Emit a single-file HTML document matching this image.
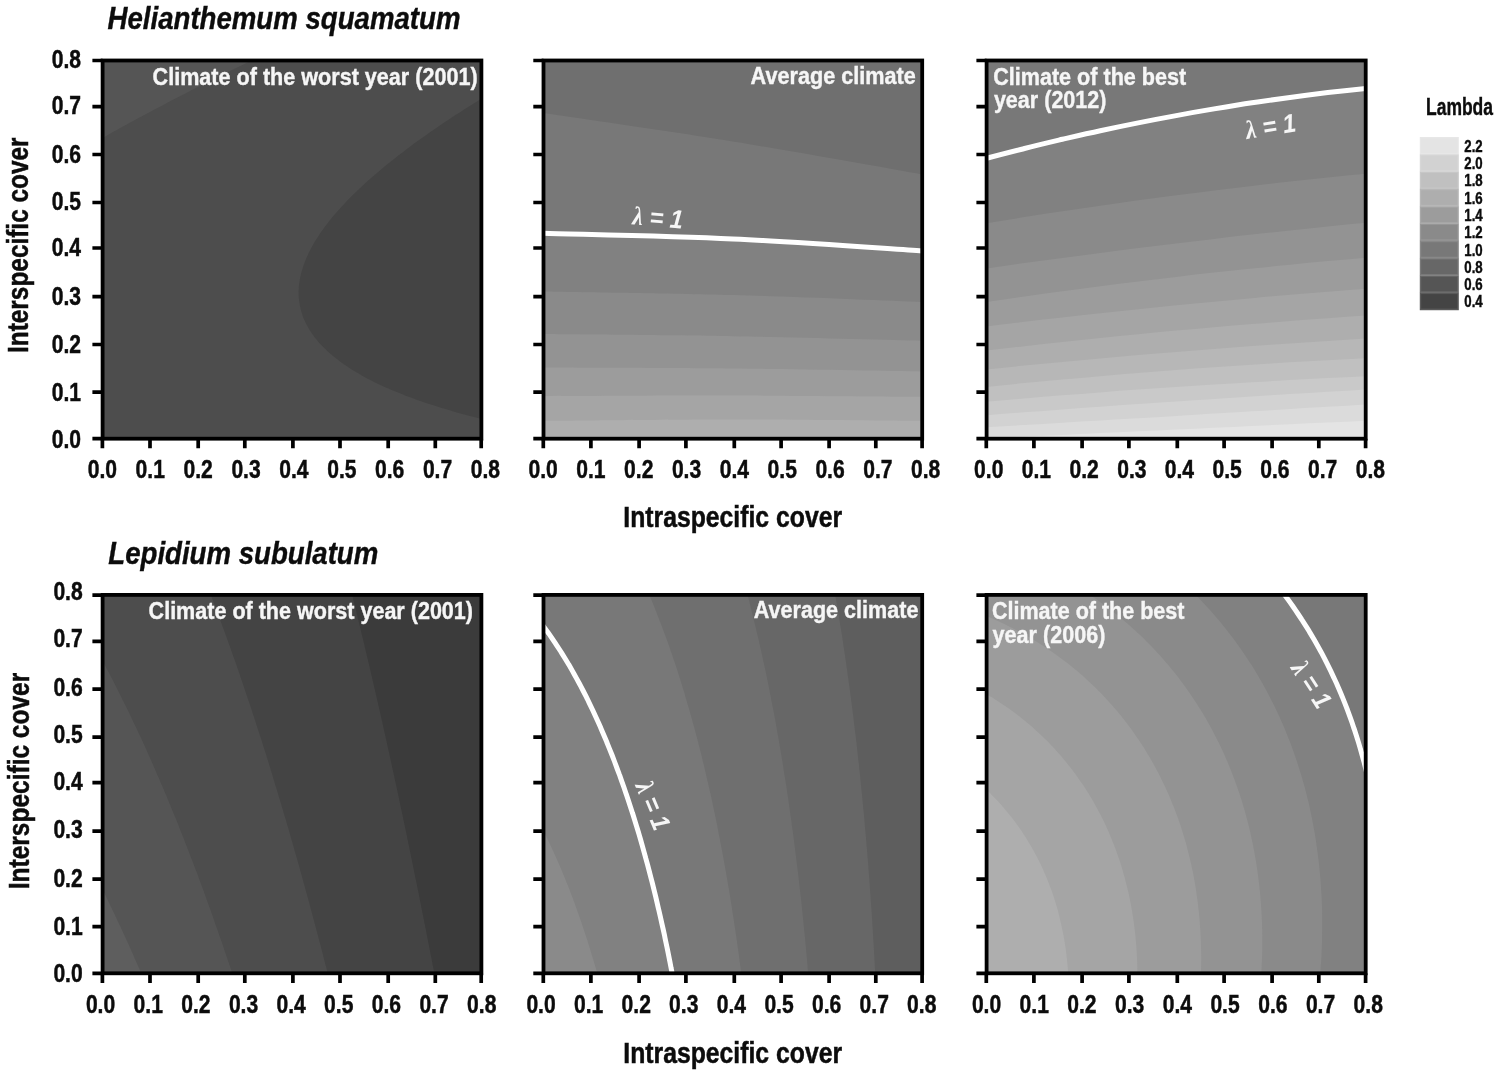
<!DOCTYPE html>
<html lang="en"><head><meta charset="utf-8"><title>Lambda contour plots</title>
<style>
html,body{margin:0;padding:0;background:#fff;}
body{width:1499px;height:1077px;overflow:hidden;}
svg{display:block;filter:blur(0.7px);}
text{font-family:"Liberation Sans",Arial,Helvetica,sans-serif;font-weight:bold;}
.tk{font-size:26.2px;fill:#0c0c0c;stroke:#0c0c0c;stroke-width:0.5px;}
.ax{font-size:29.6px;fill:#0c0c0c;stroke:#0c0c0c;stroke-width:0.5px;}
.ti{font-size:31.5px;font-style:italic;fill:#0c0c0c;stroke:#0c0c0c;stroke-width:0.4px;}
.pl{font-size:24.5px;fill:#f6f6f6;stroke:#f6f6f6;stroke-width:0.4px;}
.lm{font-size:26px;font-style:italic;fill:#f6f6f6;}
.lg{font-size:17.4px;fill:#0c0c0c;stroke:#0c0c0c;stroke-width:0.45px;}
.lt{font-size:23.4px;fill:#0c0c0c;stroke:#0c0c0c;stroke-width:0.4px;}
.ls{font-family:"Liberation Serif","DejaVu Serif",serif;font-weight:bold;font-style:italic;}
</style></head><body>
<svg width="1499" height="1077" viewBox="0 0 1499 1077" role="img" aria-label="Lambda contour plots for Helianthemum squamatum and Lepidium subulatum">
<rect width="1499" height="1077" fill="#fff"/>
<defs>
<clipPath id="c00"><rect x="102.6" y="60.5" width="378.8" height="378.2"/></clipPath>
<clipPath id="c01"><rect x="543.5" y="60.5" width="378.7" height="378.2"/></clipPath>
<clipPath id="c02"><rect x="986.6" y="60.5" width="379.1" height="378.2"/></clipPath>
<clipPath id="c10"><rect x="102.6" y="594.9" width="378.8" height="378.4"/></clipPath>
<clipPath id="c11"><rect x="543.5" y="594.9" width="378.7" height="378.4"/></clipPath>
<clipPath id="c12"><rect x="986.6" y="594.9" width="379.1" height="378.4"/></clipPath>
</defs>
<g clip-path="url(#c00)">
<rect x="102.6" y="60.5" width="378.8" height="378.2" fill="#444444"/>
<path d="M88.4 452.9 L94.9 452.9 L101.3 452.9 L107.8 452.9 L114.2 452.9 L120.7 452.9 L127.2 452.9 L133.6 452.9 L140.1 452.9 L146.6 452.9 L153 452.9 L159.5 452.9 L166 452.9 L172.4 452.9 L178.9 452.9 L185.3 452.9 L191.8 452.9 L198.3 452.9 L204.7 452.9 L211.2 452.9 L217.7 452.9 L224.1 452.9 L230.6 452.9 L237.1 452.9 L243.5 452.9 L250 452.9 L256.4 452.9 L262.9 452.9 L269.4 452.9 L275.8 452.9 L282.3 452.9 L288.8 452.9 L295.2 452.9 L301.7 452.9 L308.2 452.9 L314.6 452.9 L321.1 452.9 L327.6 452.9 L334 452.9 L340.5 452.9 L346.9 452.9 L353.4 452.9 L359.9 452.9 L366.3 452.9 L372.8 452.9 L379.3 452.9 L385.7 452.9 L392.2 452.9 L398.7 452.9 L405.1 452.9 L411.6 452.9 L418 452.9 L424.5 452.9 L431 452.9 L437.4 452.9 L443.9 452.9 L450.4 452.9 L456.8 452.9 L463.3 452.9 L469.8 452.9 L476.2 452.9 L482.7 452.9 L489.1 452.9 L495.6 452.9 L495.6 446.4 L495.6 440 L495.6 433.5 L495.6 427.1 L495.6 422.3 L489.1 420.8 L488.5 420.6 L482.7 419.2 L476.2 417.6 L469.8 415.9 L463.3 414.2 L463.1 414.2 L456.8 412.4 L450.4 410.5 L443.9 408.6 L440.8 407.7 L437.4 406.6 L431 404.6 L424.5 402.4 L421 401.3 L418 400.2 L411.6 397.8 L405.1 395.4 L403.5 394.8 L398.7 392.8 L392.2 390.2 L387.9 388.3 L385.7 387.4 L379.3 384.4 L374.1 381.9 L372.8 381.2 L366.3 377.9 L361.8 375.4 L359.9 374.3 L353.4 370.5 L351 369 L346.9 366.3 L341.4 362.5 L340.5 361.8 L334 356.8 L333 356.1 L327.6 351.2 L325.8 349.6 L321.1 344.8 L319.5 343.2 L314.6 337.3 L314.2 336.7 L309.7 330.3 L308.2 327.5 L306.1 323.8 L303.2 317.4 L301.7 312.7 L301.1 310.9 L299.7 304.5 L298.8 298 L298.6 291.5 L299 285.1 L300 278.6 L301.4 272.2 L301.7 271.3 L303.4 265.7 L305.9 259.3 L308.2 254.2 L308.8 252.8 L312.1 246.4 L314.6 242.1 L315.9 239.9 L320.1 233.5 L321.1 232.1 L324.7 227 L327.6 223.3 L329.7 220.6 L334 215.3 L335 214.1 L340.5 207.9 L340.7 207.7 L346.7 201.2 L346.9 201 L353.1 194.7 L353.4 194.5 L359.8 188.3 L359.9 188.2 L366.3 182.3 L366.8 181.8 L372.8 176.5 L374.1 175.4 L379.3 171 L381.7 168.9 L385.7 165.6 L389.6 162.5 L392.2 160.4 L397.7 156 L398.7 155.3 L405.1 150.4 L406.2 149.6 L411.6 145.6 L414.8 143.1 L418 140.8 L423.8 136.7 L424.5 136.2 L431 131.6 L433 130.2 L437.4 127.2 L442.4 123.8 L443.9 122.8 L450.4 118.5 L452.1 117.3 L456.8 114.2 L462 110.9 L463.3 110 L469.8 105.9 L472.1 104.4 L476.2 101.9 L482.5 97.9 L482.7 97.8 L489.1 93.9 L493.1 91.5 L495.6 90 L495.6 85 L495.6 78.6 L495.6 72.1 L495.6 65.7 L495.6 59.2 L495.6 52.8 L495.6 46.3 L489.1 46.3 L482.7 46.3 L476.2 46.3 L469.8 46.3 L463.3 46.3 L456.8 46.3 L450.4 46.3 L443.9 46.3 L437.4 46.3 L431 46.3 L424.5 46.3 L418 46.3 L411.6 46.3 L405.1 46.3 L398.7 46.3 L392.2 46.3 L385.7 46.3 L379.3 46.3 L372.8 46.3 L366.3 46.3 L359.9 46.3 L353.4 46.3 L346.9 46.3 L340.5 46.3 L334 46.3 L327.6 46.3 L321.1 46.3 L314.6 46.3 L308.2 46.3 L301.7 46.3 L295.2 46.3 L288.8 46.3 L282.3 46.3 L275.8 46.3 L269.4 46.3 L262.9 46.3 L256.4 46.3 L250 46.3 L243.5 46.3 L237.1 46.3 L230.6 46.3 L224.1 46.3 L217.7 46.3 L211.2 46.3 L204.7 46.3 L198.3 46.3 L191.8 46.3 L185.3 46.3 L178.9 46.3 L172.4 46.3 L166 46.3 L159.5 46.3 L153 46.3 L146.6 46.3 L140.1 46.3 L133.6 46.3 L127.2 46.3 L120.7 46.3 L114.2 46.3 L107.8 46.3 L101.3 46.3 L94.9 46.3 L88.4 46.3 L88.4 52.8 L88.4 59.2 L88.4 65.7 L88.4 72.1 L88.4 78.6 L88.4 85 L88.4 91.5 L88.4 97.9 L88.4 104.4 L88.4 110.9 L88.4 117.3 L88.4 123.8 L88.4 130.2 L88.4 136.7 L88.4 143.1 L88.4 149.6 L88.4 156 L88.4 162.5 L88.4 168.9 L88.4 175.4 L88.4 181.8 L88.4 188.3 L88.4 194.7 L88.4 201.2 L88.4 207.7 L88.4 214.1 L88.4 220.6 L88.4 227 L88.4 233.5 L88.4 239.9 L88.4 246.4 L88.4 252.8 L88.4 259.3 L88.4 265.7 L88.4 272.2 L88.4 278.6 L88.4 285.1 L88.4 291.5 L88.4 298 L88.4 304.5 L88.4 310.9 L88.4 317.4 L88.4 323.8 L88.4 330.3 L88.4 336.7 L88.4 343.2 L88.4 349.6 L88.4 356.1 L88.4 362.5 L88.4 369 L88.4 375.4 L88.4 381.9 L88.4 388.3 L88.4 394.8 L88.4 401.3 L88.4 407.7 L88.4 414.2 L88.4 420.6 L88.4 427.1 L88.4 433.5 L88.4 440 L88.4 446.4Z" fill="#4d4d4d"/>
<path d="M88.4 143.1 L88.4 146 L93.4 143.1 L94.9 142.3 L101.3 138.6 L104.8 136.7 L107.8 135 L114.2 131.3 L116.3 130.2 L120.7 127.8 L127.2 124.2 L128 123.8 L133.6 120.7 L139.8 117.3 L140.1 117.2 L146.6 113.7 L151.9 110.9 L153 110.3 L159.5 106.9 L164.1 104.4 L166 103.4 L172.4 100.1 L176.5 97.9 L178.9 96.7 L185.3 93.4 L189.1 91.5 L191.8 90.1 L198.3 86.8 L201.8 85 L204.7 83.6 L211.2 80.3 L214.7 78.6 L217.7 77.1 L224.1 73.9 L227.7 72.1 L230.6 70.7 L237.1 67.6 L240.9 65.7 L243.5 64.4 L250 61.3 L254.2 59.2 L256.4 58.2 L262.9 55.1 L267.7 52.8 L269.4 52 L275.8 48.9 L281.4 46.3 L275.8 46.3 L269.4 46.3 L262.9 46.3 L256.4 46.3 L250 46.3 L243.5 46.3 L237.1 46.3 L230.6 46.3 L224.1 46.3 L217.7 46.3 L211.2 46.3 L204.7 46.3 L198.3 46.3 L191.8 46.3 L185.3 46.3 L178.9 46.3 L172.4 46.3 L166 46.3 L159.5 46.3 L153 46.3 L146.6 46.3 L140.1 46.3 L133.6 46.3 L127.2 46.3 L120.7 46.3 L114.2 46.3 L107.8 46.3 L101.3 46.3 L94.9 46.3 L88.4 46.3 L88.4 52.8 L88.4 59.2 L88.4 65.7 L88.4 72.1 L88.4 78.6 L88.4 85 L88.4 91.5 L88.4 97.9 L88.4 104.4 L88.4 110.9 L88.4 117.3 L88.4 123.8 L88.4 130.2 L88.4 136.7Z" fill="#555555"/>
</g>
<g clip-path="url(#c01)">
<rect x="543.5" y="60.5" width="378.7" height="378.2" fill="#6f6f6f"/>
<path d="M540.5 112.7 C541 112.7 511.4 108.3 543.5 113.1 C575.6 117.9 669.7 131.3 732.9 141.5 C796 151.7 890.1 168.8 922.2 174.4 C954.3 180 924.7 174.8 925.2 174.9 L925.2 443.7 L540.5 443.7 Z" fill="#787878"/>
<path d="M540.5 233.2 C541 233.2 511.4 232.3 543.5 233.3 C575.6 234.3 669.7 236.1 732.9 239 C796 241.9 890.1 248.9 922.2 250.9 C954.3 252.9 924.7 251.1 925.2 251.1 L925.2 443.7 L540.5 443.7 Z" fill="#818181"/>
<path d="M540.5 291.3 C541 291.4 511.4 290.8 543.5 291.4 C575.6 292 669.7 293.2 732.9 295 C796 296.8 890.1 300.8 922.2 302 C954.3 303.2 924.7 302.1 925.2 302.1 L925.2 443.7 L540.5 443.7 Z" fill="#8a8a8a"/>
<path d="M540.5 334.1 C541 334.1 511.4 333.7 543.5 334.1 C575.6 334.5 669.7 335.1 732.9 336.2 C796 337.3 890.1 339.9 922.2 340.7 C954.3 341.5 924.7 340.8 925.2 340.8 L925.2 443.7 L540.5 443.7 Z" fill="#939393"/>
<path d="M540.5 367.4 C541 367.4 511.4 367.2 543.5 367.4 C575.6 367.6 669.7 367.7 732.9 368.4 C796 369.1 890.1 370.9 922.2 371.4 C954.3 371.9 924.7 371.4 925.2 371.4 L925.2 443.7 L540.5 443.7 Z" fill="#9c9c9c"/>
<path d="M540.5 396.2 C541 396.2 511.4 396.3 543.5 396.2 C575.6 396.1 669.7 395.5 732.9 395.6 C796 395.7 890.1 396.6 922.2 396.8 C954.3 397 924.7 396.8 925.2 396.8 L925.2 443.7 L540.5 443.7 Z" fill="#a5a5a5"/>
<path d="M540.5 420.8 C541 420.8 511.4 421 543.5 420.8 C575.6 420.6 669.7 419.4 732.9 419.4 C796 419.4 890.1 420.6 922.2 420.8 C954.3 421 924.7 420.8 925.2 420.8 L925.2 443.7 L540.5 443.7 Z" fill="#aeaeae"/>
<path d="M540.5 233.2 C541 233.2 511.4 232.3 543.5 233.3 C575.6 234.3 669.7 236.1 732.9 239 C796 241.9 890.1 248.9 922.2 250.9 C954.3 252.9 924.7 251.1 925.2 251.1" fill="none" stroke="#fff" stroke-width="5.0"/>
</g>
<g clip-path="url(#c02)">
<rect x="986.6" y="60.5" width="379.1" height="378.2" fill="#787878"/>
<path d="M948.7 168.7 C955 167 974 161.7 986.6 158.3 C999.2 154.9 1011.9 151.7 1024.5 148.5 C1037.1 145.3 1049.8 142.3 1062.4 139.3 C1075.1 136.4 1087.7 133.5 1100.3 130.8 C1113 128 1125.6 125.4 1138.2 122.9 C1150.9 120.3 1163.5 117.9 1176.2 115.6 C1188.8 113.2 1201.4 111 1214.1 108.9 C1226.7 106.8 1239.3 104.7 1252 102.8 C1264.6 100.9 1277.2 99.1 1289.9 97.4 C1302.5 95.7 1315.2 94.1 1327.8 92.6 C1340.4 91.1 1353.1 89.7 1365.7 88.4 C1378.3 87.1 1397.3 85.4 1403.6 84.8 L1403.6 463.7 L948.7 463.7 Z" fill="#818181"/>
<path d="M948.7 229.6 C955 228.5 974 225.3 986.6 223.2 C999.2 221.1 1011.9 219.1 1024.5 217.1 C1037.1 215.1 1049.8 213.2 1062.4 211.3 C1075.1 209.3 1087.7 207.5 1100.3 205.7 C1113 203.8 1125.6 202.1 1138.2 200.3 C1150.9 198.6 1163.5 196.9 1176.2 195.2 C1188.8 193.6 1201.4 192 1214.1 190.4 C1226.7 188.9 1239.3 187.3 1252 185.9 C1264.6 184.4 1277.2 182.9 1289.9 181.6 C1302.5 180.2 1315.2 178.8 1327.8 177.5 C1340.4 176.2 1353.1 174.9 1365.7 173.7 C1378.3 172.5 1397.3 170.7 1403.6 170.2 L1403.6 463.7 L948.7 463.7 Z" fill="#8a8a8a"/>
<path d="M948.7 274 C955 273.1 974 270.3 986.6 268.5 C999.2 266.7 1011.9 264.9 1024.5 263.1 C1037.1 261.4 1049.8 259.6 1062.4 257.9 C1075.1 256.2 1087.7 254.6 1100.3 252.9 C1113 251.3 1125.6 249.7 1138.2 248.1 C1150.9 246.5 1163.5 244.9 1176.2 243.4 C1188.8 241.9 1201.4 240.4 1214.1 238.9 C1226.7 237.4 1239.3 236 1252 234.6 C1264.6 233.2 1277.2 231.8 1289.9 230.5 C1302.5 229.1 1315.2 227.8 1327.8 226.5 C1340.4 225.2 1353.1 223.9 1365.7 222.7 C1378.3 221.5 1397.3 219.7 1403.6 219.1 L1403.6 463.7 L948.7 463.7 Z" fill="#939393"/>
<path d="M948.7 307.9 C955 306.9 974 304 986.6 302.1 C999.2 300.2 1011.9 298.4 1024.5 296.6 C1037.1 294.8 1049.8 293 1062.4 291.3 C1075.1 289.6 1087.7 287.9 1100.3 286.3 C1113 284.6 1125.6 283 1138.2 281.5 C1150.9 279.9 1163.5 278.4 1176.2 276.9 C1188.8 275.4 1201.4 274 1214.1 272.6 C1226.7 271.2 1239.3 269.8 1252 268.5 C1264.6 267.2 1277.2 265.9 1289.9 264.7 C1302.5 263.4 1315.2 262.2 1327.8 261.1 C1340.4 259.9 1353.1 258.8 1365.7 257.7 C1378.3 256.6 1397.3 255.1 1403.6 254.6 L1403.6 463.7 L948.7 463.7 Z" fill="#9c9c9c"/>
<path d="M948.7 331.1 C955 330.3 974 328 986.6 326.4 C999.2 324.9 1011.9 323.3 1024.5 321.8 C1037.1 320.3 1049.8 318.9 1062.4 317.5 C1075.1 316 1087.7 314.6 1100.3 313.2 C1113 311.9 1125.6 310.5 1138.2 309.2 C1150.9 307.9 1163.5 306.6 1176.2 305.3 C1188.8 304.1 1201.4 302.9 1214.1 301.7 C1226.7 300.5 1239.3 299.3 1252 298.2 C1264.6 297 1277.2 295.9 1289.9 294.8 C1302.5 293.8 1315.2 292.7 1327.8 291.7 C1340.4 290.7 1353.1 289.7 1365.7 288.7 C1378.3 287.7 1397.3 286.4 1403.6 285.9 L1403.6 463.7 L948.7 463.7 Z" fill="#a5a5a5"/>
<path d="M948.7 355.2 C955 354.4 974 352.1 986.6 350.6 C999.2 349.1 1011.9 347.6 1024.5 346.2 C1037.1 344.8 1049.8 343.4 1062.4 342 C1075.1 340.6 1087.7 339.3 1100.3 338 C1113 336.7 1125.6 335.4 1138.2 334.2 C1150.9 333 1163.5 331.8 1176.2 330.6 C1188.8 329.4 1201.4 328.3 1214.1 327.2 C1226.7 326.1 1239.3 325 1252 324 C1264.6 323 1277.2 322 1289.9 321 C1302.5 320 1315.2 319.1 1327.8 318.2 C1340.4 317.3 1353.1 316.4 1365.7 315.6 C1378.3 314.8 1397.3 313.6 1403.6 313.2 L1403.6 463.7 L948.7 463.7 Z" fill="#aeaeae"/>
<path d="M948.7 373.4 C955 372.7 974 370.7 986.6 369.4 C999.2 368.1 1011.9 366.8 1024.5 365.6 C1037.1 364.3 1049.8 363.1 1062.4 361.9 C1075.1 360.8 1087.7 359.6 1100.3 358.4 C1113 357.3 1125.6 356.2 1138.2 355.1 C1150.9 354 1163.5 353 1176.2 351.9 C1188.8 350.9 1201.4 349.9 1214.1 348.9 C1226.7 348 1239.3 347 1252 346.1 C1264.6 345.2 1277.2 344.3 1289.9 343.4 C1302.5 342.5 1315.2 341.7 1327.8 340.9 C1340.4 340.1 1353.1 339.3 1365.7 338.5 C1378.3 337.7 1397.3 336.7 1403.6 336.3 L1403.6 463.7 L948.7 463.7 Z" fill="#b7b7b7"/>
<path d="M948.7 390.9 C955 390.2 974 388.2 986.6 386.9 C999.2 385.6 1011.9 384.4 1024.5 383.1 C1037.1 381.9 1049.8 380.7 1062.4 379.6 C1075.1 378.4 1087.7 377.3 1100.3 376.2 C1113 375.1 1125.6 374 1138.2 373 C1150.9 372 1163.5 371 1176.2 370 C1188.8 369.1 1201.4 368.2 1214.1 367.3 C1226.7 366.4 1239.3 365.5 1252 364.7 C1264.6 363.9 1277.2 363.1 1289.9 362.3 C1302.5 361.6 1315.2 360.9 1327.8 360.2 C1340.4 359.5 1353.1 358.8 1365.7 358.2 C1378.3 357.6 1397.3 356.7 1403.6 356.4 L1403.6 463.7 L948.7 463.7 Z" fill="#c0c0c0"/>
<path d="M948.7 405.1 C955 404.6 974 402.8 986.6 401.7 C999.2 400.6 1011.9 399.5 1024.5 398.4 C1037.1 397.4 1049.8 396.3 1062.4 395.3 C1075.1 394.3 1087.7 393.4 1100.3 392.4 C1113 391.4 1125.6 390.5 1138.2 389.6 C1150.9 388.7 1163.5 387.8 1176.2 387 C1188.8 386.2 1201.4 385.3 1214.1 384.5 C1226.7 383.7 1239.3 383 1252 382.2 C1264.6 381.5 1277.2 380.8 1289.9 380.1 C1302.5 379.4 1315.2 378.8 1327.8 378.1 C1340.4 377.5 1353.1 376.9 1365.7 376.3 C1378.3 375.7 1397.3 374.9 1403.6 374.6 L1403.6 463.7 L948.7 463.7 Z" fill="#c9c9c9"/>
<path d="M948.7 418.1 C955 417.6 974 416.2 986.6 415.2 C999.2 414.2 1011.9 413.3 1024.5 412.3 C1037.1 411.4 1049.8 410.5 1062.4 409.5 C1075.1 408.6 1087.7 407.7 1100.3 406.8 C1113 405.9 1125.6 405 1138.2 404.1 C1150.9 403.2 1163.5 402.4 1176.2 401.5 C1188.8 400.6 1201.4 399.8 1214.1 399 C1226.7 398.1 1239.3 397.3 1252 396.5 C1264.6 395.7 1277.2 394.8 1289.9 394 C1302.5 393.3 1315.2 392.5 1327.8 391.7 C1340.4 390.9 1353.1 390.2 1365.7 389.4 C1378.3 388.6 1397.3 387.5 1403.6 387.2 L1403.6 463.7 L948.7 463.7 Z" fill="#d2d2d2"/>
<path d="M948.7 429.6 C955 429.2 974 428.1 986.6 427.3 C999.2 426.5 1011.9 425.8 1024.5 425 C1037.1 424.3 1049.8 423.5 1062.4 422.7 C1075.1 422 1087.7 421.2 1100.3 420.5 C1113 419.7 1125.6 418.9 1138.2 418.2 C1150.9 417.4 1163.5 416.7 1176.2 415.9 C1188.8 415.1 1201.4 414.4 1214.1 413.6 C1226.7 412.9 1239.3 412.1 1252 411.3 C1264.6 410.6 1277.2 409.8 1289.9 409.1 C1302.5 408.3 1315.2 407.5 1327.8 406.8 C1340.4 406 1353.1 405.3 1365.7 404.5 C1378.3 403.7 1397.3 402.6 1403.6 402.2 L1403.6 463.7 L948.7 463.7 Z" fill="#dbdbdb"/>
<path d="M948.7 440.2 C955 439.9 974 439 986.6 438.4 C999.2 437.8 1011.9 437.2 1024.5 436.6 C1037.1 436 1049.8 435.4 1062.4 434.9 C1075.1 434.3 1087.7 433.7 1100.3 433.1 C1113 432.5 1125.6 431.9 1138.2 431.3 C1150.9 430.7 1163.5 430.1 1176.2 429.5 C1188.8 429 1201.4 428.4 1214.1 427.8 C1226.7 427.2 1239.3 426.6 1252 426 C1264.6 425.4 1277.2 424.8 1289.9 424.2 C1302.5 423.6 1315.2 423.1 1327.8 422.5 C1340.4 421.9 1353.1 421.3 1365.7 420.7 C1378.3 420.1 1397.3 419.2 1403.6 418.9 L1403.6 463.7 L948.7 463.7 Z" fill="#e4e4e4"/>
<path d="M948.7 168.7 C955 167 974 161.7 986.6 158.3 C999.2 154.9 1011.9 151.7 1024.5 148.5 C1037.1 145.3 1049.8 142.3 1062.4 139.3 C1075.1 136.4 1087.7 133.5 1100.3 130.8 C1113 128 1125.6 125.4 1138.2 122.9 C1150.9 120.3 1163.5 117.9 1176.2 115.6 C1188.8 113.2 1201.4 111 1214.1 108.9 C1226.7 106.8 1239.3 104.7 1252 102.8 C1264.6 100.9 1277.2 99.1 1289.9 97.4 C1302.5 95.7 1315.2 94.1 1327.8 92.6 C1340.4 91.1 1353.1 89.7 1365.7 88.4 C1378.3 87.1 1397.3 85.4 1403.6 84.8" fill="none" stroke="#fff" stroke-width="5.0"/>
</g>
<g clip-path="url(#c10)">
<rect x="102.6" y="594.9" width="378.8" height="378.4" fill="#3b3b3b"/>
<path d="M88.4 987.5 L94.9 987.5 L101.3 987.5 L107.8 987.5 L114.2 987.5 L120.7 987.5 L127.2 987.5 L133.6 987.5 L140.1 987.5 L146.6 987.5 L153 987.5 L159.5 987.5 L166 987.5 L172.4 987.5 L178.9 987.5 L185.3 987.5 L191.8 987.5 L198.3 987.5 L204.7 987.5 L211.2 987.5 L217.7 987.5 L224.1 987.5 L230.6 987.5 L237.1 987.5 L243.5 987.5 L250 987.5 L256.4 987.5 L262.9 987.5 L269.4 987.5 L275.8 987.5 L282.3 987.5 L288.8 987.5 L295.2 987.5 L301.7 987.5 L308.2 987.5 L314.6 987.5 L321.1 987.5 L327.6 987.5 L334 987.5 L340.5 987.5 L346.9 987.5 L353.4 987.5 L359.9 987.5 L366.3 987.5 L372.8 987.5 L379.3 987.5 L385.7 987.5 L392.2 987.5 L398.7 987.5 L405.1 987.5 L411.6 987.5 L418 987.5 L424.5 987.5 L431 987.5 L437 987.5 L435.8 981 L434.5 974.6 L433.3 968.1 L432.1 961.7 L431 956 L430.8 955.2 L429.6 948.7 L428.3 942.3 L427 935.8 L425.8 929.4 L424.5 923 L424.5 922.9 L423.2 916.5 L421.9 910 L420.6 903.6 L419.4 897.1 L418.1 890.6 L418 890.5 L416.8 884.2 L415.4 877.7 L414.1 871.3 L412.8 864.8 L411.6 858.7 L411.5 858.4 L410.2 851.9 L408.8 845.4 L407.5 839 L406.2 832.5 L405.1 827.5 L404.8 826.1 L403.4 819.6 L402.1 813.2 L400.7 806.7 L399.3 800.2 L398.7 797 L398 793.8 L396.6 787.3 L395.2 780.9 L393.8 774.4 L392.4 768 L392.2 767 L391 761.5 L389.6 755 L388.1 748.6 L386.7 742.1 L385.7 737.7 L385.3 735.7 L383.8 729.2 L382.4 722.8 L380.9 716.3 L379.5 709.8 L379.3 708.9 L378 703.4 L376.5 696.9 L375 690.5 L373.5 684 L372.8 680.8 L372 677.6 L370.5 671.1 L369 664.6 L367.5 658.2 L366.3 653.2 L366 651.7 L364.4 645.3 L362.9 638.8 L361.3 632.4 L359.9 626.3 L359.8 625.9 L358.2 619.5 L356.6 613 L355 606.5 L353.4 600.1 L353.4 599.9 L351.8 593.6 L350.2 587.2 L348.6 580.7 L346.9 580.7 L340.5 580.7 L334 580.7 L327.6 580.7 L321.1 580.7 L314.6 580.7 L308.2 580.7 L301.7 580.7 L295.2 580.7 L288.8 580.7 L282.3 580.7 L275.8 580.7 L269.4 580.7 L262.9 580.7 L256.4 580.7 L250 580.7 L243.5 580.7 L237.1 580.7 L230.6 580.7 L224.1 580.7 L217.7 580.7 L211.2 580.7 L204.7 580.7 L198.3 580.7 L191.8 580.7 L185.3 580.7 L178.9 580.7 L172.4 580.7 L166 580.7 L159.5 580.7 L153 580.7 L146.6 580.7 L140.1 580.7 L133.6 580.7 L127.2 580.7 L120.7 580.7 L114.2 580.7 L107.8 580.7 L101.3 580.7 L94.9 580.7 L88.4 580.7 L88.4 587.2 L88.4 593.6 L88.4 600.1 L88.4 606.5 L88.4 613 L88.4 619.5 L88.4 625.9 L88.4 632.4 L88.4 638.8 L88.4 645.3 L88.4 651.7 L88.4 658.2 L88.4 664.6 L88.4 671.1 L88.4 677.6 L88.4 684 L88.4 690.5 L88.4 696.9 L88.4 703.4 L88.4 709.8 L88.4 716.3 L88.4 722.8 L88.4 729.2 L88.4 735.7 L88.4 742.1 L88.4 748.6 L88.4 755 L88.4 761.5 L88.4 768 L88.4 774.4 L88.4 780.9 L88.4 787.3 L88.4 793.8 L88.4 800.2 L88.4 806.7 L88.4 813.2 L88.4 819.6 L88.4 826.1 L88.4 832.5 L88.4 839 L88.4 845.4 L88.4 851.9 L88.4 858.4 L88.4 864.8 L88.4 871.3 L88.4 877.7 L88.4 884.2 L88.4 890.6 L88.4 897.1 L88.4 903.6 L88.4 910 L88.4 916.5 L88.4 922.9 L88.4 929.4 L88.4 935.8 L88.4 942.3 L88.4 948.7 L88.4 955.2 L88.4 961.7 L88.4 968.1 L88.4 974.6 L88.4 981Z" fill="#444444"/>
<path d="M88.4 987.5 L94.9 987.5 L101.3 987.5 L107.8 987.5 L114.2 987.5 L120.7 987.5 L127.2 987.5 L133.6 987.5 L140.1 987.5 L146.6 987.5 L153 987.5 L159.5 987.5 L166 987.5 L172.4 987.5 L178.9 987.5 L185.3 987.5 L191.8 987.5 L198.3 987.5 L204.7 987.5 L211.2 987.5 L217.7 987.5 L224.1 987.5 L230.6 987.5 L237.1 987.5 L243.5 987.5 L250 987.5 L256.4 987.5 L262.9 987.5 L269.4 987.5 L275.8 987.5 L282.3 987.5 L288.8 987.5 L295.2 987.5 L301.7 987.5 L308.2 987.5 L314.6 987.5 L321.1 987.5 L327.6 987.5 L331.3 987.5 L329.7 981 L328 974.6 L327.6 972.7 L326.4 968.1 L324.7 961.7 L323.1 955.2 L321.4 948.7 L321.1 947.6 L319.7 942.3 L318 935.8 L316.3 929.4 L314.6 923.1 L314.6 922.9 L312.8 916.5 L311.1 910 L309.4 903.6 L308.2 899.1 L307.6 897.1 L305.8 890.6 L304.1 884.2 L302.3 877.7 L301.7 875.6 L300.5 871.3 L298.7 864.8 L296.9 858.4 L295.2 852.6 L295 851.9 L293.2 845.4 L291.3 839 L289.5 832.5 L288.8 830.1 L287.6 826.1 L285.7 819.6 L283.8 813.2 L282.3 808 L281.9 806.7 L280 800.2 L278 793.8 L276.1 787.3 L275.8 786.5 L274.1 780.9 L272.2 774.4 L270.2 768 L269.4 765.4 L268.2 761.5 L266.2 755 L264.1 748.6 L262.9 744.7 L262.1 742.1 L260 735.7 L257.9 729.2 L256.4 724.6 L255.9 722.8 L253.7 716.3 L251.6 709.8 L250 704.9 L249.5 703.4 L247.3 696.9 L245.1 690.5 L243.5 685.7 L243 684 L240.7 677.6 L238.5 671.1 L237.1 666.9 L236.3 664.6 L234 658.2 L231.7 651.7 L230.6 648.5 L229.4 645.3 L227.1 638.8 L224.8 632.4 L224.1 630.6 L222.4 625.9 L220 619.5 L217.7 613.1 L217.6 613 L215.2 606.5 L212.7 600.1 L211.2 596.1 L210.3 593.6 L207.8 587.2 L205.2 580.7 L204.7 580.7 L198.3 580.7 L191.8 580.7 L185.3 580.7 L178.9 580.7 L172.4 580.7 L166 580.7 L159.5 580.7 L153 580.7 L146.6 580.7 L140.1 580.7 L133.6 580.7 L127.2 580.7 L120.7 580.7 L114.2 580.7 L107.8 580.7 L101.3 580.7 L94.9 580.7 L88.4 580.7 L88.4 587.2 L88.4 593.6 L88.4 600.1 L88.4 606.5 L88.4 613 L88.4 619.5 L88.4 625.9 L88.4 632.4 L88.4 638.8 L88.4 645.3 L88.4 651.7 L88.4 658.2 L88.4 664.6 L88.4 671.1 L88.4 677.6 L88.4 684 L88.4 690.5 L88.4 696.9 L88.4 703.4 L88.4 709.8 L88.4 716.3 L88.4 722.8 L88.4 729.2 L88.4 735.7 L88.4 742.1 L88.4 748.6 L88.4 755 L88.4 761.5 L88.4 768 L88.4 774.4 L88.4 780.9 L88.4 787.3 L88.4 793.8 L88.4 800.2 L88.4 806.7 L88.4 813.2 L88.4 819.6 L88.4 826.1 L88.4 832.5 L88.4 839 L88.4 845.4 L88.4 851.9 L88.4 858.4 L88.4 864.8 L88.4 871.3 L88.4 877.7 L88.4 884.2 L88.4 890.6 L88.4 897.1 L88.4 903.6 L88.4 910 L88.4 916.5 L88.4 922.9 L88.4 929.4 L88.4 935.8 L88.4 942.3 L88.4 948.7 L88.4 955.2 L88.4 961.7 L88.4 968.1 L88.4 974.6 L88.4 981Z" fill="#4d4d4d"/>
<path d="M88.4 987.5 L94.9 987.5 L101.3 987.5 L107.8 987.5 L114.2 987.5 L120.7 987.5 L127.2 987.5 L133.6 987.5 L140.1 987.5 L146.6 987.5 L153 987.5 L159.5 987.5 L166 987.5 L172.4 987.5 L178.9 987.5 L185.3 987.5 L191.8 987.5 L198.3 987.5 L204.7 987.5 L211.2 987.5 L217.7 987.5 L224.1 987.5 L230.6 987.5 L236.9 987.5 L234.8 981 L232.7 974.6 L230.6 968.3 L230.5 968.1 L228.4 961.7 L226.2 955.2 L224.1 949.2 L224 948.7 L221.8 942.3 L219.5 935.8 L217.7 930.4 L217.3 929.4 L215 922.9 L212.8 916.5 L211.2 912.1 L210.5 910 L208.1 903.6 L205.8 897.1 L204.7 894.1 L203.5 890.6 L201.1 884.2 L198.7 877.7 L198.3 876.6 L196.3 871.3 L193.8 864.8 L191.8 859.5 L191.4 858.4 L188.9 851.9 L186.4 845.4 L185.3 842.7 L183.9 839 L181.3 832.5 L178.9 826.4 L178.8 826.1 L176.2 819.6 L173.5 813.2 L172.4 810.4 L170.9 806.7 L168.2 800.2 L166 794.8 L165.5 793.8 L162.8 787.3 L160 780.9 L159.5 779.6 L157.2 774.4 L154.4 768 L153 764.7 L151.6 761.5 L148.7 755 L146.6 750.3 L145.8 748.6 L142.9 742.1 L140.1 736.1 L139.9 735.7 L136.9 729.2 L133.8 722.8 L133.6 722.4 L130.7 716.3 L127.6 709.8 L127.2 708.9 L124.4 703.4 L121.2 696.9 L120.7 695.9 L118 690.5 L114.7 684 L114.2 683.1 L111.4 677.6 L108 671.1 L107.8 670.7 L104.5 664.6 L101.3 658.7 L101.1 658.2 L97.5 651.7 L94.9 646.9 L93.9 645.3 L90.3 638.8 L88.4 635.5 L88.4 638.8 L88.4 645.3 L88.4 651.7 L88.4 658.2 L88.4 664.6 L88.4 671.1 L88.4 677.6 L88.4 684 L88.4 690.5 L88.4 696.9 L88.4 703.4 L88.4 709.8 L88.4 716.3 L88.4 722.8 L88.4 729.2 L88.4 735.7 L88.4 742.1 L88.4 748.6 L88.4 755 L88.4 761.5 L88.4 768 L88.4 774.4 L88.4 780.9 L88.4 787.3 L88.4 793.8 L88.4 800.2 L88.4 806.7 L88.4 813.2 L88.4 819.6 L88.4 826.1 L88.4 832.5 L88.4 839 L88.4 845.4 L88.4 851.9 L88.4 858.4 L88.4 864.8 L88.4 871.3 L88.4 877.7 L88.4 884.2 L88.4 890.6 L88.4 897.1 L88.4 903.6 L88.4 910 L88.4 916.5 L88.4 922.9 L88.4 929.4 L88.4 935.8 L88.4 942.3 L88.4 948.7 L88.4 955.2 L88.4 961.7 L88.4 968.1 L88.4 974.6 L88.4 981Z" fill="#555555"/>
<path d="M88.4 987.5 L94.9 987.5 L101.3 987.5 L107.8 987.5 L114.2 987.5 L120.7 987.5 L127.2 987.5 L133.6 987.5 L140.1 987.5 L146.6 987.5 L147.3 987.5 L146.6 985.7 L144.6 981 L141.8 974.6 L140.1 970.6 L139 968.1 L136.2 961.7 L133.6 955.9 L133.4 955.2 L130.5 948.7 L127.6 942.3 L127.2 941.4 L124.6 935.8 L121.7 929.4 L120.7 927.3 L118.6 922.9 L115.6 916.5 L114.2 913.6 L112.5 910 L109.4 903.6 L107.8 900.2 L106.3 897.1 L103.1 890.6 L101.3 887.1 L99.9 884.2 L96.6 877.7 L94.9 874.3 L93.3 871.3 L89.9 864.8 L88.4 861.9 L88.4 864.8 L88.4 871.3 L88.4 877.7 L88.4 884.2 L88.4 890.6 L88.4 897.1 L88.4 903.6 L88.4 910 L88.4 916.5 L88.4 922.9 L88.4 929.4 L88.4 935.8 L88.4 942.3 L88.4 948.7 L88.4 955.2 L88.4 961.7 L88.4 968.1 L88.4 974.6 L88.4 981Z" fill="#5e5e5e"/>
</g>
<g clip-path="url(#c11)">
<rect x="543.5" y="594.9" width="378.7" height="378.4" fill="#555555"/>
<path d="M529.3 987.5 L535.8 987.5 L542.2 987.5 L548.7 987.5 L555.1 987.5 L561.6 987.5 L568.1 987.5 L574.5 987.5 L581 987.5 L587.5 987.5 L593.9 987.5 L600.4 987.5 L606.8 987.5 L613.3 987.5 L619.8 987.5 L626.2 987.5 L632.7 987.5 L639.2 987.5 L645.6 987.5 L652.1 987.5 L658.5 987.5 L665 987.5 L671.5 987.5 L677.9 987.5 L684.4 987.5 L690.8 987.5 L697.3 987.5 L703.8 987.5 L710.2 987.5 L716.7 987.5 L723.2 987.5 L729.6 987.5 L736.1 987.5 L742.5 987.5 L749 987.5 L755.5 987.5 L761.9 987.5 L768.4 987.5 L774.9 987.5 L781.3 987.5 L787.8 987.5 L794.2 987.5 L800.7 987.5 L807.2 987.5 L813.6 987.5 L820.1 987.5 L826.5 987.5 L833 987.5 L839.5 987.5 L845.9 987.5 L852.4 987.5 L858.9 987.5 L865.3 987.5 L871.8 987.5 L878.2 987.5 L884.7 987.5 L891.2 987.5 L897.6 987.5 L904.1 987.5 L910.6 987.5 L917 987.5 L923.5 987.5 L929.9 987.5 L936.4 987.5 L936.4 981 L936.4 974.6 L936.4 968.1 L936.4 961.7 L936.4 955.2 L936.4 948.7 L936.4 942.3 L936.4 935.8 L936.4 929.4 L936.4 922.9 L936.4 916.5 L936.4 910 L936.4 903.6 L936.4 897.1 L936.4 890.6 L936.4 884.2 L936.4 877.7 L936.4 871.3 L936.4 864.8 L936.4 858.4 L936.4 851.9 L936.4 845.4 L936.4 839 L936.4 832.5 L936.4 826.1 L936.4 819.6 L936.4 813.2 L936.4 806.7 L936.4 800.2 L936.4 793.8 L936.4 787.3 L936.4 784.4 L936.2 780.9 L935.8 774.4 L935.3 768 L934.9 761.5 L934.5 755 L934 748.6 L933.5 742.1 L933.1 735.7 L932.6 729.2 L932.1 722.8 L931.6 716.3 L931.1 709.8 L930.5 703.4 L930 696.9 L929.9 696.3 L929.4 690.5 L928.9 684 L928.3 677.6 L927.7 671.1 L927.1 664.6 L926.5 658.2 L925.9 651.7 L925.2 645.3 L924.6 638.8 L924 632.4 L923.5 627.8 L923.3 625.9 L922.6 619.5 L921.9 613 L921.2 606.5 L920.5 600.1 L919.7 593.6 L919 587.2 L918.2 580.7 L917 580.7 L910.6 580.7 L904.1 580.7 L897.6 580.7 L891.2 580.7 L884.7 580.7 L878.2 580.7 L871.8 580.7 L865.3 580.7 L858.9 580.7 L852.4 580.7 L845.9 580.7 L839.5 580.7 L833 580.7 L826.5 580.7 L820.1 580.7 L813.6 580.7 L807.2 580.7 L800.7 580.7 L794.2 580.7 L787.8 580.7 L781.3 580.7 L774.9 580.7 L768.4 580.7 L761.9 580.7 L755.5 580.7 L749 580.7 L742.5 580.7 L736.1 580.7 L729.6 580.7 L723.2 580.7 L716.7 580.7 L710.2 580.7 L703.8 580.7 L697.3 580.7 L690.8 580.7 L684.4 580.7 L677.9 580.7 L671.5 580.7 L665 580.7 L658.5 580.7 L652.1 580.7 L645.6 580.7 L639.2 580.7 L632.7 580.7 L626.2 580.7 L619.8 580.7 L613.3 580.7 L606.8 580.7 L600.4 580.7 L593.9 580.7 L587.5 580.7 L581 580.7 L574.5 580.7 L568.1 580.7 L561.6 580.7 L555.1 580.7 L548.7 580.7 L542.2 580.7 L535.8 580.7 L529.3 580.7 L529.3 587.2 L529.3 593.6 L529.3 600.1 L529.3 606.5 L529.3 613 L529.3 619.5 L529.3 625.9 L529.3 632.4 L529.3 638.8 L529.3 645.3 L529.3 651.7 L529.3 658.2 L529.3 664.6 L529.3 671.1 L529.3 677.6 L529.3 684 L529.3 690.5 L529.3 696.9 L529.3 703.4 L529.3 709.8 L529.3 716.3 L529.3 722.8 L529.3 729.2 L529.3 735.7 L529.3 742.1 L529.3 748.6 L529.3 755 L529.3 761.5 L529.3 768 L529.3 774.4 L529.3 780.9 L529.3 787.3 L529.3 793.8 L529.3 800.2 L529.3 806.7 L529.3 813.2 L529.3 819.6 L529.3 826.1 L529.3 832.5 L529.3 839 L529.3 845.4 L529.3 851.9 L529.3 858.4 L529.3 864.8 L529.3 871.3 L529.3 877.7 L529.3 884.2 L529.3 890.6 L529.3 897.1 L529.3 903.6 L529.3 910 L529.3 916.5 L529.3 922.9 L529.3 929.4 L529.3 935.8 L529.3 942.3 L529.3 948.7 L529.3 955.2 L529.3 961.7 L529.3 968.1 L529.3 974.6 L529.3 981Z" fill="#5e5e5e"/>
<path d="M529.3 987.5 L535.8 987.5 L542.2 987.5 L548.7 987.5 L555.1 987.5 L561.6 987.5 L568.1 987.5 L574.5 987.5 L581 987.5 L587.5 987.5 L593.9 987.5 L600.4 987.5 L606.8 987.5 L613.3 987.5 L619.8 987.5 L626.2 987.5 L632.7 987.5 L639.2 987.5 L645.6 987.5 L652.1 987.5 L658.5 987.5 L665 987.5 L671.5 987.5 L677.9 987.5 L684.4 987.5 L690.8 987.5 L697.3 987.5 L703.8 987.5 L710.2 987.5 L716.7 987.5 L723.2 987.5 L729.6 987.5 L736.1 987.5 L742.5 987.5 L749 987.5 L755.5 987.5 L761.9 987.5 L768.4 987.5 L774.9 987.5 L781.3 987.5 L787.8 987.5 L794.2 987.5 L800.7 987.5 L807.2 987.5 L813.6 987.5 L820.1 987.5 L826.5 987.5 L833 987.5 L839.5 987.5 L845.9 987.5 L852.4 987.5 L858.9 987.5 L865.3 987.5 L871.8 987.5 L875.9 987.5 L875.6 981 L875.3 974.6 L874.9 968.1 L874.6 961.7 L874.2 955.2 L873.9 948.7 L873.5 942.3 L873.1 935.8 L872.7 929.4 L872.3 922.9 L871.9 916.5 L871.8 914.7 L871.5 910 L871 903.6 L870.6 897.1 L870.1 890.6 L869.7 884.2 L869.2 877.7 L868.7 871.3 L868.2 864.8 L867.7 858.4 L867.2 851.9 L866.6 845.4 L866.1 839 L865.5 832.5 L865.3 830.3 L864.9 826.1 L864.4 819.6 L863.8 813.2 L863.1 806.7 L862.5 800.2 L861.9 793.8 L861.2 787.3 L860.6 780.9 L859.9 774.4 L859.2 768 L858.9 764.4 L858.5 761.5 L857.8 755 L857.1 748.6 L856.4 742.1 L855.6 735.7 L854.8 729.2 L854 722.8 L853.3 716.3 L852.4 709.8 L852.4 709.5 L851.6 703.4 L850.8 696.9 L849.9 690.5 L849 684 L848.1 677.6 L847.2 671.1 L846.3 664.6 L845.9 662 L845.4 658.2 L844.4 651.7 L843.4 645.3 L842.5 638.8 L841.5 632.4 L840.4 625.9 L839.5 619.9 L839.4 619.5 L838.3 613 L837.2 606.5 L836.1 600.1 L835 593.6 L833.9 587.2 L833 582.2 L832.7 580.7 L826.5 580.7 L820.1 580.7 L813.6 580.7 L807.2 580.7 L800.7 580.7 L794.2 580.7 L787.8 580.7 L781.3 580.7 L774.9 580.7 L768.4 580.7 L761.9 580.7 L755.5 580.7 L749 580.7 L742.5 580.7 L736.1 580.7 L729.6 580.7 L723.2 580.7 L716.7 580.7 L710.2 580.7 L703.8 580.7 L697.3 580.7 L690.8 580.7 L684.4 580.7 L677.9 580.7 L671.5 580.7 L665 580.7 L658.5 580.7 L652.1 580.7 L645.6 580.7 L639.2 580.7 L632.7 580.7 L626.2 580.7 L619.8 580.7 L613.3 580.7 L606.8 580.7 L600.4 580.7 L593.9 580.7 L587.5 580.7 L581 580.7 L574.5 580.7 L568.1 580.7 L561.6 580.7 L555.1 580.7 L548.7 580.7 L542.2 580.7 L535.8 580.7 L529.3 580.7 L529.3 587.2 L529.3 593.6 L529.3 600.1 L529.3 606.5 L529.3 613 L529.3 619.5 L529.3 625.9 L529.3 632.4 L529.3 638.8 L529.3 645.3 L529.3 651.7 L529.3 658.2 L529.3 664.6 L529.3 671.1 L529.3 677.6 L529.3 684 L529.3 690.5 L529.3 696.9 L529.3 703.4 L529.3 709.8 L529.3 716.3 L529.3 722.8 L529.3 729.2 L529.3 735.7 L529.3 742.1 L529.3 748.6 L529.3 755 L529.3 761.5 L529.3 768 L529.3 774.4 L529.3 780.9 L529.3 787.3 L529.3 793.8 L529.3 800.2 L529.3 806.7 L529.3 813.2 L529.3 819.6 L529.3 826.1 L529.3 832.5 L529.3 839 L529.3 845.4 L529.3 851.9 L529.3 858.4 L529.3 864.8 L529.3 871.3 L529.3 877.7 L529.3 884.2 L529.3 890.6 L529.3 897.1 L529.3 903.6 L529.3 910 L529.3 916.5 L529.3 922.9 L529.3 929.4 L529.3 935.8 L529.3 942.3 L529.3 948.7 L529.3 955.2 L529.3 961.7 L529.3 968.1 L529.3 974.6 L529.3 981Z" fill="#676767"/>
<path d="M529.3 987.5 L535.8 987.5 L542.2 987.5 L548.7 987.5 L555.1 987.5 L561.6 987.5 L568.1 987.5 L574.5 987.5 L581 987.5 L587.5 987.5 L593.9 987.5 L600.4 987.5 L606.8 987.5 L613.3 987.5 L619.8 987.5 L626.2 987.5 L632.7 987.5 L639.2 987.5 L645.6 987.5 L652.1 987.5 L658.5 987.5 L665 987.5 L671.5 987.5 L677.9 987.5 L684.4 987.5 L690.8 987.5 L697.3 987.5 L703.8 987.5 L710.2 987.5 L716.7 987.5 L723.2 987.5 L729.6 987.5 L736.1 987.5 L742.5 987.5 L749 987.5 L755.5 987.5 L761.9 987.5 L768.4 987.5 L774.9 987.5 L781.3 987.5 L787.8 987.5 L794.2 987.5 L800.7 987.5 L807.2 987.5 L809.4 987.5 L808.8 981 L808.3 974.6 L807.7 968.1 L807.2 961.7 L807.2 961.5 L806.6 955.2 L806 948.7 L805.4 942.3 L804.8 935.8 L804.1 929.4 L803.5 922.9 L802.8 916.5 L802.2 910 L801.5 903.6 L800.8 897.1 L800.7 896.5 L800 890.6 L799.3 884.2 L798.6 877.7 L797.8 871.3 L797 864.8 L796.2 858.4 L795.4 851.9 L794.6 845.4 L794.2 842.5 L793.8 839 L792.9 832.5 L792 826.1 L791.1 819.6 L790.2 813.2 L789.3 806.7 L788.4 800.2 L787.8 796.1 L787.4 793.8 L786.5 787.3 L785.5 780.9 L784.4 774.4 L783.4 768 L782.4 761.5 L781.3 755.1 L781.3 755 L780.2 748.6 L779.1 742.1 L778 735.7 L776.8 729.2 L775.7 722.8 L774.9 718.3 L774.5 716.3 L773.3 709.8 L772 703.4 L770.8 696.9 L769.5 690.5 L768.4 685 L768.2 684 L766.9 677.6 L765.5 671.1 L764.1 664.6 L762.7 658.2 L761.9 654.6 L761.3 651.7 L759.8 645.3 L758.4 638.8 L756.8 632.4 L755.5 626.5 L755.3 625.9 L753.7 619.5 L752.1 613 L750.5 606.5 L749 600.6 L748.9 600.1 L747.2 593.6 L745.5 587.2 L743.7 580.7 L742.5 580.7 L736.1 580.7 L729.6 580.7 L723.2 580.7 L716.7 580.7 L710.2 580.7 L703.8 580.7 L697.3 580.7 L690.8 580.7 L684.4 580.7 L677.9 580.7 L671.5 580.7 L665 580.7 L658.5 580.7 L652.1 580.7 L645.6 580.7 L639.2 580.7 L632.7 580.7 L626.2 580.7 L619.8 580.7 L613.3 580.7 L606.8 580.7 L600.4 580.7 L593.9 580.7 L587.5 580.7 L581 580.7 L574.5 580.7 L568.1 580.7 L561.6 580.7 L555.1 580.7 L548.7 580.7 L542.2 580.7 L535.8 580.7 L529.3 580.7 L529.3 587.2 L529.3 593.6 L529.3 600.1 L529.3 606.5 L529.3 613 L529.3 619.5 L529.3 625.9 L529.3 632.4 L529.3 638.8 L529.3 645.3 L529.3 651.7 L529.3 658.2 L529.3 664.6 L529.3 671.1 L529.3 677.6 L529.3 684 L529.3 690.5 L529.3 696.9 L529.3 703.4 L529.3 709.8 L529.3 716.3 L529.3 722.8 L529.3 729.2 L529.3 735.7 L529.3 742.1 L529.3 748.6 L529.3 755 L529.3 761.5 L529.3 768 L529.3 774.4 L529.3 780.9 L529.3 787.3 L529.3 793.8 L529.3 800.2 L529.3 806.7 L529.3 813.2 L529.3 819.6 L529.3 826.1 L529.3 832.5 L529.3 839 L529.3 845.4 L529.3 851.9 L529.3 858.4 L529.3 864.8 L529.3 871.3 L529.3 877.7 L529.3 884.2 L529.3 890.6 L529.3 897.1 L529.3 903.6 L529.3 910 L529.3 916.5 L529.3 922.9 L529.3 929.4 L529.3 935.8 L529.3 942.3 L529.3 948.7 L529.3 955.2 L529.3 961.7 L529.3 968.1 L529.3 974.6 L529.3 981Z" fill="#6f6f6f"/>
<path d="M529.3 987.5 L535.8 987.5 L542.2 987.5 L548.7 987.5 L555.1 987.5 L561.6 987.5 L568.1 987.5 L574.5 987.5 L581 987.5 L587.5 987.5 L593.9 987.5 L600.4 987.5 L606.8 987.5 L613.3 987.5 L619.8 987.5 L626.2 987.5 L632.7 987.5 L639.2 987.5 L645.6 987.5 L652.1 987.5 L658.5 987.5 L665 987.5 L671.5 987.5 L677.9 987.5 L684.4 987.5 L690.8 987.5 L697.3 987.5 L703.8 987.5 L710.2 987.5 L716.7 987.5 L723.2 987.5 L729.6 987.5 L736.1 987.5 L742.5 987.5 L743.1 987.5 L742.5 983.3 L742.3 981 L741.4 974.6 L740.6 968.1 L739.7 961.7 L738.9 955.2 L738 948.7 L737.1 942.3 L736.1 935.8 L736.1 935.5 L735.2 929.4 L734.2 922.9 L733.2 916.5 L732.2 910 L731.2 903.6 L730.2 897.1 L729.6 893.8 L729.1 890.6 L728 884.2 L726.9 877.7 L725.8 871.3 L724.6 864.8 L723.5 858.4 L723.2 856.7 L722.3 851.9 L721 845.4 L719.8 839 L718.5 832.5 L717.3 826.1 L716.7 823.2 L716 819.6 L714.6 813.2 L713.2 806.7 L711.9 800.2 L710.5 793.8 L710.2 792.8 L709 787.3 L707.5 780.9 L706 774.4 L704.5 768 L703.8 764.9 L702.9 761.5 L701.4 755 L699.7 748.6 L698.1 742.1 L697.3 739.1 L696.4 735.7 L694.7 729.2 L692.9 722.8 L691.1 716.3 L690.8 715.3 L689.3 709.8 L687.4 703.4 L685.5 696.9 L684.4 693.1 L683.6 690.5 L681.6 684 L679.6 677.6 L677.9 672.3 L677.5 671.1 L675.4 664.6 L673.2 658.2 L671.5 653 L671 651.7 L668.8 645.3 L666.5 638.8 L665 634.8 L664.1 632.4 L661.7 625.9 L659.2 619.5 L658.5 617.7 L656.7 613 L654.1 606.5 L652.1 601.6 L651.4 600.1 L648.7 593.6 L645.9 587.2 L645.6 586.4 L643 580.7 L639.2 580.7 L632.7 580.7 L626.2 580.7 L619.8 580.7 L613.3 580.7 L606.8 580.7 L600.4 580.7 L593.9 580.7 L587.5 580.7 L581 580.7 L574.5 580.7 L568.1 580.7 L561.6 580.7 L555.1 580.7 L548.7 580.7 L542.2 580.7 L535.8 580.7 L529.3 580.7 L529.3 587.2 L529.3 593.6 L529.3 600.1 L529.3 606.5 L529.3 613 L529.3 619.5 L529.3 625.9 L529.3 632.4 L529.3 638.8 L529.3 645.3 L529.3 651.7 L529.3 658.2 L529.3 664.6 L529.3 671.1 L529.3 677.6 L529.3 684 L529.3 690.5 L529.3 696.9 L529.3 703.4 L529.3 709.8 L529.3 716.3 L529.3 722.8 L529.3 729.2 L529.3 735.7 L529.3 742.1 L529.3 748.6 L529.3 755 L529.3 761.5 L529.3 768 L529.3 774.4 L529.3 780.9 L529.3 787.3 L529.3 793.8 L529.3 800.2 L529.3 806.7 L529.3 813.2 L529.3 819.6 L529.3 826.1 L529.3 832.5 L529.3 839 L529.3 845.4 L529.3 851.9 L529.3 858.4 L529.3 864.8 L529.3 871.3 L529.3 877.7 L529.3 884.2 L529.3 890.6 L529.3 897.1 L529.3 903.6 L529.3 910 L529.3 916.5 L529.3 922.9 L529.3 929.4 L529.3 935.8 L529.3 942.3 L529.3 948.7 L529.3 955.2 L529.3 961.7 L529.3 968.1 L529.3 974.6 L529.3 981Z" fill="#787878"/>
<path d="M529.3 987.5 L535.8 987.5 L542.2 987.5 L548.7 987.5 L555.1 987.5 L561.6 987.5 L568.1 987.5 L574.5 987.5 L581 987.5 L587.5 987.5 L593.9 987.5 L600.4 987.5 L606.8 987.5 L613.3 987.5 L619.8 987.5 L626.2 987.5 L632.7 987.5 L639.2 987.5 L645.6 987.5 L652.1 987.5 L658.5 987.5 L665 987.5 L671.5 987.5 L674.8 987.5 L673.6 981 L672.4 974.6 L671.5 969.9 L671.1 968.1 L669.9 961.7 L668.6 955.2 L667.3 948.7 L665.9 942.3 L665 937.9 L664.6 935.8 L663.2 929.4 L661.7 922.9 L660.3 916.5 L658.8 910 L658.5 908.8 L657.3 903.6 L655.8 897.1 L654.2 890.6 L652.6 884.2 L652.1 882.1 L650.9 877.7 L649.3 871.3 L647.6 864.8 L645.8 858.4 L645.6 857.6 L644 851.9 L642.2 845.4 L640.4 839 L639.2 834.9 L638.5 832.5 L636.5 826.1 L634.5 819.6 L632.7 813.7 L632.5 813.2 L630.4 806.7 L628.3 800.2 L626.2 794 L626.1 793.8 L623.9 787.3 L621.6 780.9 L619.8 775.6 L619.3 774.4 L616.9 768 L614.5 761.5 L613.3 758.4 L612 755 L609.4 748.6 L606.8 742.2 L606.8 742.1 L604.1 735.7 L601.3 729.2 L600.4 727.1 L598.5 722.8 L595.5 716.3 L593.9 712.8 L592.5 709.8 L589.4 703.4 L587.5 699.3 L586.3 696.9 L583 690.5 L581 686.7 L579.6 684 L576.1 677.6 L574.5 674.7 L572.5 671.1 L568.8 664.6 L568.1 663.5 L564.9 658.2 L561.6 652.9 L560.9 651.7 L556.7 645.3 L555.1 642.9 L552.4 638.8 L548.7 633.4 L547.9 632.4 L543.2 625.9 L542.2 624.5 L538.3 619.5 L535.8 616.2 L533.2 613 L529.3 608.3 L529.3 613 L529.3 619.5 L529.3 625.9 L529.3 632.4 L529.3 638.8 L529.3 645.3 L529.3 651.7 L529.3 658.2 L529.3 664.6 L529.3 671.1 L529.3 677.6 L529.3 684 L529.3 690.5 L529.3 696.9 L529.3 703.4 L529.3 709.8 L529.3 716.3 L529.3 722.8 L529.3 729.2 L529.3 735.7 L529.3 742.1 L529.3 748.6 L529.3 755 L529.3 761.5 L529.3 768 L529.3 774.4 L529.3 780.9 L529.3 787.3 L529.3 793.8 L529.3 800.2 L529.3 806.7 L529.3 813.2 L529.3 819.6 L529.3 826.1 L529.3 832.5 L529.3 839 L529.3 845.4 L529.3 851.9 L529.3 858.4 L529.3 864.8 L529.3 871.3 L529.3 877.7 L529.3 884.2 L529.3 890.6 L529.3 897.1 L529.3 903.6 L529.3 910 L529.3 916.5 L529.3 922.9 L529.3 929.4 L529.3 935.8 L529.3 942.3 L529.3 948.7 L529.3 955.2 L529.3 961.7 L529.3 968.1 L529.3 974.6 L529.3 981Z" fill="#818181"/>
<path d="M529.3 987.5 L535.8 987.5 L542.2 987.5 L548.7 987.5 L555.1 987.5 L561.6 987.5 L568.1 987.5 L574.5 987.5 L581 987.5 L587.5 987.5 L593.9 987.5 L600.4 987.5 L601.2 987.5 L600.4 984.4 L599.4 981 L597.6 974.6 L595.8 968.1 L593.9 961.8 L593.9 961.7 L591.9 955.2 L590 948.7 L587.9 942.3 L587.5 940.8 L585.8 935.8 L583.7 929.4 L581.6 922.9 L581 921.3 L579.3 916.5 L577 910 L574.7 903.6 L574.5 903.1 L572.3 897.1 L569.8 890.6 L568.1 886.1 L567.3 884.2 L564.7 877.7 L562 871.3 L561.6 870.2 L559.3 864.8 L556.5 858.4 L555.1 855.4 L553.6 851.9 L550.6 845.4 L548.7 841.4 L547.5 839 L544.3 832.5 L542.2 828.3 L541.1 826.1 L537.7 819.6 L535.8 816 L534.2 813.2 L530.6 806.7 L529.3 804.4 L529.3 806.7 L529.3 813.2 L529.3 819.6 L529.3 826.1 L529.3 832.5 L529.3 839 L529.3 845.4 L529.3 851.9 L529.3 858.4 L529.3 864.8 L529.3 871.3 L529.3 877.7 L529.3 884.2 L529.3 890.6 L529.3 897.1 L529.3 903.6 L529.3 910 L529.3 916.5 L529.3 922.9 L529.3 929.4 L529.3 935.8 L529.3 942.3 L529.3 948.7 L529.3 955.2 L529.3 961.7 L529.3 968.1 L529.3 974.6 L529.3 981Z" fill="#8a8a8a"/>
<path d="M674.8 987.5 L673.6 981 L672.4 974.6 L671.5 969.9 L671.1 968.1 L669.9 961.7 L668.6 955.2 L667.3 948.7 L665.9 942.3 L665 937.9 L664.6 935.8 L663.2 929.4 L661.7 922.9 L660.3 916.5 L658.8 910 L658.5 908.8 L657.3 903.6 L655.8 897.1 L654.2 890.6 L652.6 884.2 L652.1 882.1 L650.9 877.7 L649.3 871.3 L647.6 864.8 L645.8 858.4 L645.6 857.6 L644 851.9 L642.2 845.4 L640.4 839 L639.2 834.9 L638.5 832.5 L636.5 826.1 L634.5 819.6 L632.7 813.7 L632.5 813.2 L630.4 806.7 L628.3 800.2 L626.2 794 L626.1 793.8 L623.9 787.3 L621.6 780.9 L619.8 775.6 L619.3 774.4 L616.9 768 L614.5 761.5 L613.3 758.4 L612 755 L609.4 748.6 L606.8 742.2 L606.8 742.1 L604.1 735.7 L601.3 729.2 L600.4 727.1 L598.5 722.8 L595.5 716.3 L593.9 712.8 L592.5 709.8 L589.4 703.4 L587.5 699.3 L586.3 696.9 L583 690.5 L581 686.7 L579.6 684 L576.1 677.6 L574.5 674.7 L572.5 671.1 L568.8 664.6 L568.1 663.5 L564.9 658.2 L561.6 652.9 L560.9 651.7 L556.7 645.3 L555.1 642.9 L552.4 638.8 L548.7 633.4 L547.9 632.4 L543.2 625.9 L542.2 624.5 L538.3 619.5 L535.8 616.2 L533.2 613 L529.3 608.3" fill="none" stroke="#fff" stroke-width="5.0"/>
</g>
<g clip-path="url(#c12)">
<rect x="986.6" y="594.9" width="379.1" height="378.4" fill="#787878"/>
<path d="M972.4 987.5 L978.9 987.5 L985.3 987.5 L991.8 987.5 L998.3 987.5 L1004.7 987.5 L1011.2 987.5 L1017.7 987.5 L1024.1 987.5 L1030.6 987.5 L1037.1 987.5 L1043.5 987.5 L1050 987.5 L1056.5 987.5 L1062.9 987.5 L1069.4 987.5 L1075.9 987.5 L1082.4 987.5 L1088.8 987.5 L1095.3 987.5 L1101.8 987.5 L1108.2 987.5 L1114.7 987.5 L1121.2 987.5 L1127.6 987.5 L1134.1 987.5 L1140.6 987.5 L1147 987.5 L1153.5 987.5 L1160 987.5 L1166.4 987.5 L1172.9 987.5 L1179.4 987.5 L1185.9 987.5 L1192.3 987.5 L1198.8 987.5 L1205.3 987.5 L1211.7 987.5 L1218.2 987.5 L1224.7 987.5 L1231.1 987.5 L1237.6 987.5 L1244.1 987.5 L1250.5 987.5 L1257 987.5 L1263.5 987.5 L1269.9 987.5 L1276.4 987.5 L1282.9 987.5 L1289.4 987.5 L1295.8 987.5 L1302.3 987.5 L1308.8 987.5 L1315.2 987.5 L1321.7 987.5 L1328.2 987.5 L1334.6 987.5 L1341.1 987.5 L1347.6 987.5 L1354 987.5 L1360.5 987.5 L1367 987.5 L1373.4 987.5 L1377.2 987.5 L1378 981 L1378.7 974.6 L1379.3 968.1 L1379.9 961.7 L1379.9 960.9 L1379.9 955.2 L1379.9 948.7 L1379.9 942.3 L1379.9 935.8 L1379.9 929.4 L1379.9 922.9 L1379.9 916.5 L1379.9 910 L1379.9 903.6 L1379.9 897.1 L1379.9 890.6 L1379.9 884.2 L1379.9 877.7 L1379.9 871.3 L1379.9 864.8 L1379.9 858.4 L1379.9 855.9 L1379.6 851.9 L1378.9 845.4 L1378.2 839 L1377.5 832.5 L1376.6 826.1 L1375.7 819.6 L1374.7 813.2 L1373.6 806.7 L1373.4 805.6 L1372.5 800.2 L1371.2 793.8 L1369.9 787.3 L1368.5 780.9 L1367.1 774.4 L1367 774 L1365.5 768 L1363.9 761.5 L1362.1 755 L1360.5 749.3 L1360.3 748.6 L1358.4 742.1 L1356.4 735.7 L1354.3 729.2 L1354 728.5 L1352.1 722.8 L1349.8 716.3 L1347.6 710.3 L1347.4 709.8 L1344.9 703.4 L1342.3 696.9 L1341.1 694.1 L1339.6 690.5 L1336.8 684 L1334.6 679.3 L1333.8 677.6 L1330.8 671.1 L1328.2 665.8 L1327.6 664.6 L1324.3 658.2 L1321.7 653.2 L1320.9 651.7 L1317.3 645.3 L1315.2 641.6 L1313.6 638.8 L1309.8 632.4 L1308.8 630.6 L1305.8 625.9 L1302.3 620.3 L1301.7 619.5 L1297.4 613 L1295.8 610.6 L1293 606.5 L1289.4 601.4 L1288.4 600.1 L1283.6 593.6 L1282.9 592.7 L1278.6 587.2 L1276.4 584.3 L1273.5 580.7 L1269.9 580.7 L1263.5 580.7 L1257 580.7 L1250.5 580.7 L1244.1 580.7 L1237.6 580.7 L1231.1 580.7 L1224.7 580.7 L1218.2 580.7 L1211.7 580.7 L1205.3 580.7 L1198.8 580.7 L1192.3 580.7 L1185.9 580.7 L1179.4 580.7 L1172.9 580.7 L1166.4 580.7 L1160 580.7 L1153.5 580.7 L1147 580.7 L1140.6 580.7 L1134.1 580.7 L1127.6 580.7 L1121.2 580.7 L1114.7 580.7 L1108.2 580.7 L1101.8 580.7 L1095.3 580.7 L1088.8 580.7 L1082.4 580.7 L1075.9 580.7 L1069.4 580.7 L1062.9 580.7 L1056.5 580.7 L1050 580.7 L1043.5 580.7 L1037.1 580.7 L1030.6 580.7 L1024.1 580.7 L1017.7 580.7 L1011.2 580.7 L1004.7 580.7 L998.3 580.7 L991.8 580.7 L985.3 580.7 L978.9 580.7 L972.4 580.7 L972.4 587.2 L972.4 593.6 L972.4 600.1 L972.4 606.5 L972.4 613 L972.4 619.5 L972.4 625.9 L972.4 632.4 L972.4 638.8 L972.4 645.3 L972.4 651.7 L972.4 658.2 L972.4 664.6 L972.4 671.1 L972.4 677.6 L972.4 684 L972.4 690.5 L972.4 696.9 L972.4 703.4 L972.4 709.8 L972.4 716.3 L972.4 722.8 L972.4 729.2 L972.4 735.7 L972.4 742.1 L972.4 748.6 L972.4 755 L972.4 761.5 L972.4 768 L972.4 774.4 L972.4 780.9 L972.4 787.3 L972.4 793.8 L972.4 800.2 L972.4 806.7 L972.4 813.2 L972.4 819.6 L972.4 826.1 L972.4 832.5 L972.4 839 L972.4 845.4 L972.4 851.9 L972.4 858.4 L972.4 864.8 L972.4 871.3 L972.4 877.7 L972.4 884.2 L972.4 890.6 L972.4 897.1 L972.4 903.6 L972.4 910 L972.4 916.5 L972.4 922.9 L972.4 929.4 L972.4 935.8 L972.4 942.3 L972.4 948.7 L972.4 955.2 L972.4 961.7 L972.4 968.1 L972.4 974.6 L972.4 981Z" fill="#818181"/>
<path d="M972.4 987.5 L978.9 987.5 L985.3 987.5 L991.8 987.5 L998.3 987.5 L1004.7 987.5 L1011.2 987.5 L1017.7 987.5 L1024.1 987.5 L1030.6 987.5 L1037.1 987.5 L1043.5 987.5 L1050 987.5 L1056.5 987.5 L1062.9 987.5 L1069.4 987.5 L1075.9 987.5 L1082.4 987.5 L1088.8 987.5 L1095.3 987.5 L1101.8 987.5 L1108.2 987.5 L1114.7 987.5 L1121.2 987.5 L1127.6 987.5 L1134.1 987.5 L1140.6 987.5 L1147 987.5 L1153.5 987.5 L1160 987.5 L1166.4 987.5 L1172.9 987.5 L1179.4 987.5 L1185.9 987.5 L1192.3 987.5 L1198.8 987.5 L1205.3 987.5 L1211.7 987.5 L1218.2 987.5 L1224.7 987.5 L1231.1 987.5 L1237.6 987.5 L1244.1 987.5 L1250.5 987.5 L1257 987.5 L1263.5 987.5 L1269.9 987.5 L1276.4 987.5 L1282.9 987.5 L1289.4 987.5 L1295.8 987.5 L1302.3 987.5 L1308.8 987.5 L1315.2 987.5 L1318.9 987.5 L1319.6 981 L1320.1 974.6 L1320.6 968.1 L1321.1 961.7 L1321.5 955.2 L1321.7 949.9 L1321.8 948.7 L1322 942.3 L1322.1 935.8 L1322.2 929.4 L1322.2 922.9 L1322.2 916.5 L1322.1 910 L1321.9 903.6 L1321.7 899.6 L1321.6 897.1 L1321.2 890.6 L1320.8 884.2 L1320.3 877.7 L1319.7 871.3 L1319.1 864.8 L1318.3 858.4 L1317.5 851.9 L1316.6 845.4 L1315.7 839 L1315.2 836.3 L1314.6 832.5 L1313.4 826.1 L1312.2 819.6 L1310.9 813.2 L1309.5 806.7 L1308.8 803.6 L1308 800.2 L1306.4 793.8 L1304.7 787.3 L1302.9 780.9 L1302.3 778.7 L1301 774.4 L1299 768 L1296.9 761.5 L1295.8 758.2 L1294.7 755 L1292.4 748.6 L1290 742.1 L1289.4 740.4 L1287.5 735.7 L1284.9 729.2 L1282.9 724.6 L1282.1 722.8 L1279.2 716.3 L1276.4 710.3 L1276.2 709.8 L1273.1 703.4 L1269.9 697.2 L1269.8 696.9 L1266.4 690.5 L1263.5 685.2 L1262.8 684 L1259.1 677.6 L1257 674 L1255.3 671.1 L1251.3 664.6 L1250.5 663.5 L1247.1 658.2 L1244.1 653.7 L1242.7 651.7 L1238.2 645.3 L1237.6 644.4 L1233.5 638.8 L1231.1 635.7 L1228.6 632.4 L1224.7 627.4 L1223.5 625.9 L1218.2 619.5 L1218.1 619.5 L1212.5 613 L1211.7 612.1 L1206.7 606.5 L1205.3 604.9 L1200.7 600.1 L1198.8 598.1 L1194.3 593.6 L1192.3 591.6 L1187.7 587.2 L1185.9 585.4 L1180.8 580.7 L1179.4 580.7 L1172.9 580.7 L1166.4 580.7 L1160 580.7 L1153.5 580.7 L1147 580.7 L1140.6 580.7 L1134.1 580.7 L1127.6 580.7 L1121.2 580.7 L1114.7 580.7 L1108.2 580.7 L1101.8 580.7 L1095.3 580.7 L1088.8 580.7 L1082.4 580.7 L1075.9 580.7 L1069.4 580.7 L1062.9 580.7 L1056.5 580.7 L1050 580.7 L1043.5 580.7 L1037.1 580.7 L1030.6 580.7 L1024.1 580.7 L1017.7 580.7 L1011.2 580.7 L1004.7 580.7 L998.3 580.7 L991.8 580.7 L985.3 580.7 L978.9 580.7 L972.4 580.7 L972.4 587.2 L972.4 593.6 L972.4 600.1 L972.4 606.5 L972.4 613 L972.4 619.5 L972.4 625.9 L972.4 632.4 L972.4 638.8 L972.4 645.3 L972.4 651.7 L972.4 658.2 L972.4 664.6 L972.4 671.1 L972.4 677.6 L972.4 684 L972.4 690.5 L972.4 696.9 L972.4 703.4 L972.4 709.8 L972.4 716.3 L972.4 722.8 L972.4 729.2 L972.4 735.7 L972.4 742.1 L972.4 748.6 L972.4 755 L972.4 761.5 L972.4 768 L972.4 774.4 L972.4 780.9 L972.4 787.3 L972.4 793.8 L972.4 800.2 L972.4 806.7 L972.4 813.2 L972.4 819.6 L972.4 826.1 L972.4 832.5 L972.4 839 L972.4 845.4 L972.4 851.9 L972.4 858.4 L972.4 864.8 L972.4 871.3 L972.4 877.7 L972.4 884.2 L972.4 890.6 L972.4 897.1 L972.4 903.6 L972.4 910 L972.4 916.5 L972.4 922.9 L972.4 929.4 L972.4 935.8 L972.4 942.3 L972.4 948.7 L972.4 955.2 L972.4 961.7 L972.4 968.1 L972.4 974.6 L972.4 981Z" fill="#8a8a8a"/>
<path d="M972.4 987.5 L978.9 987.5 L985.3 987.5 L991.8 987.5 L998.3 987.5 L1004.7 987.5 L1011.2 987.5 L1017.7 987.5 L1024.1 987.5 L1030.6 987.5 L1037.1 987.5 L1043.5 987.5 L1050 987.5 L1056.5 987.5 L1062.9 987.5 L1069.4 987.5 L1075.9 987.5 L1082.4 987.5 L1088.8 987.5 L1095.3 987.5 L1101.8 987.5 L1108.2 987.5 L1114.7 987.5 L1121.2 987.5 L1127.6 987.5 L1134.1 987.5 L1140.6 987.5 L1147 987.5 L1153.5 987.5 L1160 987.5 L1166.4 987.5 L1172.9 987.5 L1179.4 987.5 L1185.9 987.5 L1192.3 987.5 L1198.8 987.5 L1205.3 987.5 L1211.7 987.5 L1218.2 987.5 L1224.7 987.5 L1231.1 987.5 L1237.6 987.5 L1244.1 987.5 L1250.5 987.5 L1257 987.5 L1260.3 987.5 L1260.8 981 L1261.3 974.6 L1261.6 968.1 L1261.9 961.7 L1262.1 955.2 L1262.3 948.7 L1262.3 942.3 L1262.3 935.8 L1262.2 929.4 L1262 922.9 L1261.7 916.5 L1261.4 910 L1260.9 903.6 L1260.4 897.1 L1259.8 890.6 L1259.1 884.2 L1258.3 877.7 L1257.5 871.3 L1257 868.1 L1256.5 864.8 L1255.5 858.4 L1254.3 851.9 L1253.1 845.4 L1251.7 839 L1250.5 833.6 L1250.3 832.5 L1248.8 826.1 L1247.1 819.6 L1245.4 813.2 L1244.1 808.6 L1243.5 806.7 L1241.6 800.2 L1239.5 793.8 L1237.6 788.2 L1237.3 787.3 L1235 780.9 L1232.5 774.4 L1231.1 770.8 L1230 768 L1227.3 761.5 L1224.7 755.5 L1224.5 755 L1221.5 748.6 L1218.4 742.1 L1218.2 741.7 L1215.2 735.7 L1211.8 729.2 L1211.7 729.1 L1208.2 722.8 L1205.3 717.6 L1204.5 716.3 L1200.6 709.8 L1198.8 706.9 L1196.6 703.4 L1192.3 696.9 L1192.3 696.9 L1187.9 690.5 L1185.9 687.7 L1183.2 684 L1179.4 678.9 L1178.4 677.6 L1173.3 671.1 L1172.9 670.7 L1168 664.6 L1166.4 662.9 L1162.4 658.2 L1160 655.5 L1156.5 651.7 L1153.5 648.5 L1150.4 645.3 L1147 641.9 L1144 638.8 L1140.6 635.5 L1137.2 632.4 L1134.1 629.5 L1130.1 625.9 L1127.6 623.8 L1122.6 619.5 L1121.2 618.3 L1114.7 613 L1114.7 613 L1108.2 608 L1106.3 606.5 L1101.8 603.2 L1097.3 600.1 L1095.3 598.6 L1088.8 594.3 L1087.9 593.6 L1082.4 590.1 L1077.7 587.2 L1075.9 586.1 L1069.4 582.2 L1066.8 580.7 L1062.9 580.7 L1056.5 580.7 L1050 580.7 L1043.5 580.7 L1037.1 580.7 L1030.6 580.7 L1024.1 580.7 L1017.7 580.7 L1011.2 580.7 L1004.7 580.7 L998.3 580.7 L991.8 580.7 L985.3 580.7 L978.9 580.7 L972.4 580.7 L972.4 587.2 L972.4 593.6 L972.4 600.1 L972.4 606.5 L972.4 613 L972.4 619.5 L972.4 625.9 L972.4 632.4 L972.4 638.8 L972.4 645.3 L972.4 651.7 L972.4 658.2 L972.4 664.6 L972.4 671.1 L972.4 677.6 L972.4 684 L972.4 690.5 L972.4 696.9 L972.4 703.4 L972.4 709.8 L972.4 716.3 L972.4 722.8 L972.4 729.2 L972.4 735.7 L972.4 742.1 L972.4 748.6 L972.4 755 L972.4 761.5 L972.4 768 L972.4 774.4 L972.4 780.9 L972.4 787.3 L972.4 793.8 L972.4 800.2 L972.4 806.7 L972.4 813.2 L972.4 819.6 L972.4 826.1 L972.4 832.5 L972.4 839 L972.4 845.4 L972.4 851.9 L972.4 858.4 L972.4 864.8 L972.4 871.3 L972.4 877.7 L972.4 884.2 L972.4 890.6 L972.4 897.1 L972.4 903.6 L972.4 910 L972.4 916.5 L972.4 922.9 L972.4 929.4 L972.4 935.8 L972.4 942.3 L972.4 948.7 L972.4 955.2 L972.4 961.7 L972.4 968.1 L972.4 974.6 L972.4 981Z" fill="#939393"/>
<path d="M972.4 987.5 L978.9 987.5 L985.3 987.5 L991.8 987.5 L998.3 987.5 L1004.7 987.5 L1011.2 987.5 L1017.7 987.5 L1024.1 987.5 L1030.6 987.5 L1037.1 987.5 L1043.5 987.5 L1050 987.5 L1056.5 987.5 L1062.9 987.5 L1069.4 987.5 L1075.9 987.5 L1082.4 987.5 L1088.8 987.5 L1095.3 987.5 L1101.8 987.5 L1108.2 987.5 L1114.7 987.5 L1121.2 987.5 L1127.6 987.5 L1134.1 987.5 L1140.6 987.5 L1147 987.5 L1153.5 987.5 L1160 987.5 L1166.4 987.5 L1172.9 987.5 L1179.4 987.5 L1185.9 987.5 L1192.3 987.5 L1198.8 987.5 L1200.3 987.5 L1200.6 981 L1200.9 974.6 L1201.1 968.1 L1201.2 961.7 L1201.2 955.2 L1201.1 948.7 L1200.9 942.3 L1200.6 935.8 L1200.3 929.4 L1199.8 922.9 L1199.3 916.5 L1198.8 911.6 L1198.6 910 L1197.9 903.6 L1197 897.1 L1196.1 890.6 L1195.1 884.2 L1193.9 877.7 L1192.7 871.3 L1192.3 869.7 L1191.3 864.8 L1189.8 858.4 L1188.2 851.9 L1186.5 845.4 L1185.9 843.1 L1184.7 839 L1182.7 832.5 L1180.7 826.1 L1179.4 822.3 L1178.5 819.6 L1176.1 813.2 L1173.7 806.7 L1172.9 804.9 L1171 800.2 L1168.3 793.8 L1166.4 789.7 L1165.4 787.3 L1162.3 780.9 L1160 776.2 L1159.1 774.4 L1155.7 768 L1153.5 764 L1152.1 761.5 L1148.3 755 L1147 752.9 L1144.4 748.6 L1140.6 742.7 L1140.2 742.1 L1135.8 735.7 L1134.1 733.2 L1131.3 729.2 L1127.6 724.3 L1126.4 722.8 L1121.4 716.3 L1121.2 716 L1116 709.8 L1114.7 708.3 L1110.4 703.4 L1108.2 701 L1104.5 696.9 L1101.8 694.1 L1098.2 690.5 L1095.3 687.6 L1091.6 684 L1088.8 681.4 L1084.6 677.6 L1082.4 675.5 L1077.2 671.1 L1075.9 670 L1069.4 664.7 L1069.3 664.6 L1062.9 659.7 L1060.9 658.2 L1056.5 654.9 L1051.9 651.7 L1050 650.4 L1043.5 646.1 L1042.3 645.3 L1037.1 642 L1031.9 638.8 L1030.6 638 L1024.1 634.3 L1020.6 632.4 L1017.7 630.8 L1011.2 627.4 L1008.2 625.9 L1004.7 624.2 L998.3 621.2 L994.5 619.5 L991.8 618.3 L985.3 615.5 L979.1 613 L978.9 612.9 L972.4 610.5 L972.4 613 L972.4 619.5 L972.4 625.9 L972.4 632.4 L972.4 638.8 L972.4 645.3 L972.4 651.7 L972.4 658.2 L972.4 664.6 L972.4 671.1 L972.4 677.6 L972.4 684 L972.4 690.5 L972.4 696.9 L972.4 703.4 L972.4 709.8 L972.4 716.3 L972.4 722.8 L972.4 729.2 L972.4 735.7 L972.4 742.1 L972.4 748.6 L972.4 755 L972.4 761.5 L972.4 768 L972.4 774.4 L972.4 780.9 L972.4 787.3 L972.4 793.8 L972.4 800.2 L972.4 806.7 L972.4 813.2 L972.4 819.6 L972.4 826.1 L972.4 832.5 L972.4 839 L972.4 845.4 L972.4 851.9 L972.4 858.4 L972.4 864.8 L972.4 871.3 L972.4 877.7 L972.4 884.2 L972.4 890.6 L972.4 897.1 L972.4 903.6 L972.4 910 L972.4 916.5 L972.4 922.9 L972.4 929.4 L972.4 935.8 L972.4 942.3 L972.4 948.7 L972.4 955.2 L972.4 961.7 L972.4 968.1 L972.4 974.6 L972.4 981Z" fill="#9c9c9c"/>
<path d="M972.4 987.5 L978.9 987.5 L985.3 987.5 L991.8 987.5 L998.3 987.5 L1004.7 987.5 L1011.2 987.5 L1017.7 987.5 L1024.1 987.5 L1030.6 987.5 L1037.1 987.5 L1043.5 987.5 L1050 987.5 L1056.5 987.5 L1062.9 987.5 L1069.4 987.5 L1075.9 987.5 L1082.4 987.5 L1088.8 987.5 L1095.3 987.5 L1101.8 987.5 L1108.2 987.5 L1114.7 987.5 L1121.2 987.5 L1127.6 987.5 L1134.1 987.5 L1137.3 987.5 L1137.4 981 L1137.4 974.6 L1137.3 968.1 L1137.2 961.7 L1136.9 955.2 L1136.5 948.7 L1136 942.3 L1135.4 935.8 L1134.7 929.4 L1134.1 924.7 L1133.9 922.9 L1132.9 916.5 L1131.9 910 L1130.7 903.6 L1129.4 897.1 L1128 890.6 L1127.6 889.2 L1126.4 884.2 L1124.7 877.7 L1122.9 871.3 L1121.2 865.5 L1121 864.8 L1118.9 858.4 L1116.6 851.9 L1114.7 846.7 L1114.2 845.4 L1111.6 839 L1108.9 832.5 L1108.2 831 L1106 826.1 L1102.9 819.6 L1101.8 817.2 L1099.7 813.2 L1096.2 806.7 L1095.3 805 L1092.6 800.2 L1088.8 794 L1088.7 793.8 L1084.6 787.3 L1082.4 784 L1080.2 780.9 L1075.9 774.7 L1075.7 774.4 L1070.8 768 L1069.4 766.2 L1065.6 761.5 L1062.9 758.3 L1060.2 755 L1056.5 750.9 L1054.4 748.6 L1050 743.9 L1048.2 742.1 L1043.5 737.5 L1041.7 735.7 L1037.1 731.4 L1034.7 729.2 L1030.6 725.6 L1027.2 722.8 L1024.1 720.2 L1019.2 716.3 L1017.7 715.1 L1011.2 710.3 L1010.6 709.8 L1004.7 705.7 L1001.3 703.4 L998.3 701.4 L991.8 697.3 L991.2 696.9 L985.3 693.5 L980 690.5 L978.9 689.8 L972.4 686.4 L972.4 690.5 L972.4 696.9 L972.4 703.4 L972.4 709.8 L972.4 716.3 L972.4 722.8 L972.4 729.2 L972.4 735.7 L972.4 742.1 L972.4 748.6 L972.4 755 L972.4 761.5 L972.4 768 L972.4 774.4 L972.4 780.9 L972.4 787.3 L972.4 793.8 L972.4 800.2 L972.4 806.7 L972.4 813.2 L972.4 819.6 L972.4 826.1 L972.4 832.5 L972.4 839 L972.4 845.4 L972.4 851.9 L972.4 858.4 L972.4 864.8 L972.4 871.3 L972.4 877.7 L972.4 884.2 L972.4 890.6 L972.4 897.1 L972.4 903.6 L972.4 910 L972.4 916.5 L972.4 922.9 L972.4 929.4 L972.4 935.8 L972.4 942.3 L972.4 948.7 L972.4 955.2 L972.4 961.7 L972.4 968.1 L972.4 974.6 L972.4 981Z" fill="#a5a5a5"/>
<path d="M972.4 987.5 L978.9 987.5 L985.3 987.5 L991.8 987.5 L998.3 987.5 L1004.7 987.5 L1011.2 987.5 L1017.7 987.5 L1024.1 987.5 L1030.6 987.5 L1037.1 987.5 L1043.5 987.5 L1050 987.5 L1056.5 987.5 L1062.9 987.5 L1068.8 987.5 L1068.6 981 L1068.3 974.6 L1067.8 968.1 L1067.2 961.7 L1066.5 955.2 L1065.7 948.7 L1064.7 942.3 L1063.6 935.8 L1062.9 932.4 L1062.3 929.4 L1060.9 922.9 L1059.4 916.5 L1057.7 910 L1056.5 905.8 L1055.8 903.6 L1053.8 897.1 L1051.6 890.6 L1050 886.4 L1049.2 884.2 L1046.6 877.7 L1043.8 871.3 L1043.5 870.6 L1040.9 864.8 L1037.7 858.4 L1037.1 857.2 L1034.3 851.9 L1030.6 845.4 L1030.6 845.4 L1026.7 839 L1024.1 834.9 L1022.6 832.5 L1018.1 826.1 L1017.7 825.4 L1013.3 819.6 L1011.2 816.8 L1008.2 813.2 L1004.7 808.9 L1002.8 806.7 L998.3 801.6 L997 800.2 L991.8 794.9 L990.7 793.8 L985.3 788.6 L983.9 787.3 L978.9 782.8 L976.6 780.9 L972.4 777.4 L972.4 780.9 L972.4 787.3 L972.4 793.8 L972.4 800.2 L972.4 806.7 L972.4 813.2 L972.4 819.6 L972.4 826.1 L972.4 832.5 L972.4 839 L972.4 845.4 L972.4 851.9 L972.4 858.4 L972.4 864.8 L972.4 871.3 L972.4 877.7 L972.4 884.2 L972.4 890.6 L972.4 897.1 L972.4 903.6 L972.4 910 L972.4 916.5 L972.4 922.9 L972.4 929.4 L972.4 935.8 L972.4 942.3 L972.4 948.7 L972.4 955.2 L972.4 961.7 L972.4 968.1 L972.4 974.6 L972.4 981Z" fill="#aeaeae"/>
<path d="M972.4 987.5 L978.9 987.5 L985.3 987.5 L990 987.5 L989.2 981 L988.3 974.6 L987.2 968.1 L985.9 961.7 L985.3 959.3 L984.4 955.2 L982.7 948.7 L980.8 942.3 L978.9 936.2 L978.7 935.8 L976.4 929.4 L973.9 922.9 L972.4 919.4 L972.4 922.9 L972.4 929.4 L972.4 935.8 L972.4 942.3 L972.4 948.7 L972.4 955.2 L972.4 961.7 L972.4 968.1 L972.4 974.6 L972.4 981Z" fill="#b7b7b7"/>
<path d="M1377.2 987.5 L1378 981 L1378.7 974.6 L1379.3 968.1 L1379.9 961.7 L1379.9 960.9 M1379.9 855.9 L1379.6 851.9 L1378.9 845.4 L1378.2 839 L1377.5 832.5 L1376.6 826.1 L1375.7 819.6 L1374.7 813.2 L1373.6 806.7 L1373.4 805.6 L1372.5 800.2 L1371.2 793.8 L1369.9 787.3 L1368.5 780.9 L1367.1 774.4 L1367 774 L1365.5 768 L1363.9 761.5 L1362.1 755 L1360.5 749.3 L1360.3 748.6 L1358.4 742.1 L1356.4 735.7 L1354.3 729.2 L1354 728.5 L1352.1 722.8 L1349.8 716.3 L1347.6 710.3 L1347.4 709.8 L1344.9 703.4 L1342.3 696.9 L1341.1 694.1 L1339.6 690.5 L1336.8 684 L1334.6 679.3 L1333.8 677.6 L1330.8 671.1 L1328.2 665.8 L1327.6 664.6 L1324.3 658.2 L1321.7 653.2 L1320.9 651.7 L1317.3 645.3 L1315.2 641.6 L1313.6 638.8 L1309.8 632.4 L1308.8 630.6 L1305.8 625.9 L1302.3 620.3 L1301.7 619.5 L1297.4 613 L1295.8 610.6 L1293 606.5 L1289.4 601.4 L1288.4 600.1 L1283.6 593.6 L1282.9 592.7 L1278.6 587.2 L1276.4 584.3 L1273.5 580.7" fill="none" stroke="#fff" stroke-width="5.0"/>
</g>
<g fill="none" stroke="#000" stroke-width="3.8">
<rect x="102.6" y="60.5" width="378.8" height="378.2"/>
<rect x="543.5" y="60.5" width="378.7" height="378.2"/>
<rect x="986.6" y="60.5" width="379.1" height="378.2"/>
<rect x="102.6" y="594.9" width="378.8" height="378.4"/>
<rect x="543.5" y="594.9" width="378.7" height="378.4"/>
<rect x="986.6" y="594.9" width="379.1" height="378.4"/>
</g>
<g stroke="#000" stroke-width="3.7">
<path d="M102.4 438.7 V448.3 M150 438.7 V448.3 M198.2 438.7 V448.3 M244.8 438.7 V448.3 M292.9 438.7 V448.3 M340 438.7 V448.3 M388.2 438.7 V448.3 M435.3 438.7 V448.3 M481.2 438.7 V448.3 M102.6 438.7 H92.4 M102.6 392.1 H92.4 M102.6 344.5 H92.4 M102.6 296.6 H92.4 M102.6 248 H92.4 M102.6 202.5 H92.4 M102.6 154.5 H92.4 M102.6 106.7 H92.4 M102.6 60.5 H92.4"/>
<path d="M543.3 438.7 V448.3 M590.9 438.7 V448.3 M639.1 438.7 V448.3 M685.9 438.7 V448.3 M734.3 438.7 V448.3 M781.1 438.7 V448.3 M829.1 438.7 V448.3 M875.8 438.7 V448.3 M922.1 438.7 V448.3 M543.5 438.7 H533.3 M543.5 392.1 H533.3 M543.5 344.5 H533.3 M543.5 296.6 H533.3 M543.5 248 H533.3 M543.5 202.5 H533.3 M543.5 154.5 H533.3 M543.5 106.7 H533.3 M543.5 60.5 H533.3"/>
<path d="M986.3 438.7 V448.3 M1033.9 438.7 V448.3 M1082.1 438.7 V448.3 M1128.9 438.7 V448.3 M1177.3 438.7 V448.3 M1224.1 438.7 V448.3 M1272.1 438.7 V448.3 M1318.8 438.7 V448.3 M1365.6 438.7 V448.3 M986.6 438.7 H976.4 M986.6 392.1 H976.4 M986.6 344.5 H976.4 M986.6 296.6 H976.4 M986.6 248 H976.4 M986.6 202.5 H976.4 M986.6 154.5 H976.4 M986.6 106.7 H976.4 M986.6 60.5 H976.4"/>
<path d="M102.4 973.3 V982.9 M150 973.3 V982.9 M198.2 973.3 V982.9 M244.8 973.3 V982.9 M292.9 973.3 V982.9 M340 973.3 V982.9 M388.2 973.3 V982.9 M435.3 973.3 V982.9 M481.2 973.3 V982.9 M102.6 973.3 H92.4 M102.6 926.7 H92.4 M102.6 879.1 H92.4 M102.6 831.2 H92.4 M102.6 782.6 H92.4 M102.6 737.1 H92.4 M102.6 689.1 H92.4 M102.6 641.3 H92.4 M102.6 595.1 H92.4"/>
<path d="M543.3 973.3 V982.9 M590.9 973.3 V982.9 M639.1 973.3 V982.9 M685.9 973.3 V982.9 M734.3 973.3 V982.9 M781.1 973.3 V982.9 M829.1 973.3 V982.9 M875.8 973.3 V982.9 M922.1 973.3 V982.9 M543.5 973.3 H533.3 M543.5 926.7 H533.3 M543.5 879.1 H533.3 M543.5 831.2 H533.3 M543.5 782.6 H533.3 M543.5 737.1 H533.3 M543.5 689.1 H533.3 M543.5 641.3 H533.3 M543.5 595.1 H533.3"/>
<path d="M986.3 973.3 V982.9 M1033.9 973.3 V982.9 M1082.1 973.3 V982.9 M1128.9 973.3 V982.9 M1177.3 973.3 V982.9 M1224.1 973.3 V982.9 M1272.1 973.3 V982.9 M1318.8 973.3 V982.9 M1365.6 973.3 V982.9 M986.6 973.3 H976.4 M986.6 926.7 H976.4 M986.6 879.1 H976.4 M986.6 831.2 H976.4 M986.6 782.6 H976.4 M986.6 737.1 H976.4 M986.6 689.1 H976.4 M986.6 641.3 H976.4 M986.6 595.1 H976.4"/>
</g>
<text class="tk" x="87.8" y="478" textLength="29.3" lengthAdjust="spacingAndGlyphs">0.0</text>
<text class="tk" x="135.6" y="478" textLength="29.3" lengthAdjust="spacingAndGlyphs">0.1</text>
<text class="tk" x="183.5" y="478" textLength="29.3" lengthAdjust="spacingAndGlyphs">0.2</text>
<text class="tk" x="231.4" y="478" textLength="29.3" lengthAdjust="spacingAndGlyphs">0.3</text>
<text class="tk" x="279.3" y="478" textLength="29.3" lengthAdjust="spacingAndGlyphs">0.4</text>
<text class="tk" x="327.2" y="478" textLength="29.3" lengthAdjust="spacingAndGlyphs">0.5</text>
<text class="tk" x="375" y="478" textLength="29.3" lengthAdjust="spacingAndGlyphs">0.6</text>
<text class="tk" x="422.9" y="478" textLength="29.3" lengthAdjust="spacingAndGlyphs">0.7</text>
<text class="tk" x="470.8" y="478" textLength="29.3" lengthAdjust="spacingAndGlyphs">0.8</text>
<text class="tk" x="528.5" y="478" textLength="29.3" lengthAdjust="spacingAndGlyphs">0.0</text>
<text class="tk" x="576.3" y="478" textLength="29.3" lengthAdjust="spacingAndGlyphs">0.1</text>
<text class="tk" x="624.1" y="478" textLength="29.3" lengthAdjust="spacingAndGlyphs">0.2</text>
<text class="tk" x="671.9" y="478" textLength="29.3" lengthAdjust="spacingAndGlyphs">0.3</text>
<text class="tk" x="719.7" y="478" textLength="29.3" lengthAdjust="spacingAndGlyphs">0.4</text>
<text class="tk" x="767.6" y="478" textLength="29.3" lengthAdjust="spacingAndGlyphs">0.5</text>
<text class="tk" x="815.4" y="478" textLength="29.3" lengthAdjust="spacingAndGlyphs">0.6</text>
<text class="tk" x="863.2" y="478" textLength="29.3" lengthAdjust="spacingAndGlyphs">0.7</text>
<text class="tk" x="911" y="478" textLength="29.3" lengthAdjust="spacingAndGlyphs">0.8</text>
<text class="tk" x="974.1" y="478" textLength="29.3" lengthAdjust="spacingAndGlyphs">0.0</text>
<text class="tk" x="1021.8" y="478" textLength="29.3" lengthAdjust="spacingAndGlyphs">0.1</text>
<text class="tk" x="1069.5" y="478" textLength="29.3" lengthAdjust="spacingAndGlyphs">0.2</text>
<text class="tk" x="1117.2" y="478" textLength="29.3" lengthAdjust="spacingAndGlyphs">0.3</text>
<text class="tk" x="1164.8" y="478" textLength="29.3" lengthAdjust="spacingAndGlyphs">0.4</text>
<text class="tk" x="1212.5" y="478" textLength="29.3" lengthAdjust="spacingAndGlyphs">0.5</text>
<text class="tk" x="1260.2" y="478" textLength="29.3" lengthAdjust="spacingAndGlyphs">0.6</text>
<text class="tk" x="1308" y="478" textLength="29.3" lengthAdjust="spacingAndGlyphs">0.7</text>
<text class="tk" x="1355.7" y="478" textLength="29.3" lengthAdjust="spacingAndGlyphs">0.8</text>
<text class="tk" x="51.7" y="447.6" textLength="29.3" lengthAdjust="spacingAndGlyphs">0.0</text>
<text class="tk" x="51.7" y="400.9" textLength="29.3" lengthAdjust="spacingAndGlyphs">0.1</text>
<text class="tk" x="51.7" y="353.4" textLength="29.3" lengthAdjust="spacingAndGlyphs">0.2</text>
<text class="tk" x="51.7" y="304.5" textLength="29.3" lengthAdjust="spacingAndGlyphs">0.3</text>
<text class="tk" x="51.7" y="256.2" textLength="29.3" lengthAdjust="spacingAndGlyphs">0.4</text>
<text class="tk" x="51.7" y="210.1" textLength="29.3" lengthAdjust="spacingAndGlyphs">0.5</text>
<text class="tk" x="51.7" y="163.1" textLength="29.3" lengthAdjust="spacingAndGlyphs">0.6</text>
<text class="tk" x="51.7" y="114.1" textLength="29.3" lengthAdjust="spacingAndGlyphs">0.7</text>
<text class="tk" x="51.7" y="67.9" textLength="29.3" lengthAdjust="spacingAndGlyphs">0.8</text>
<text class="tk" x="85.9" y="1013.3" textLength="29.3" lengthAdjust="spacingAndGlyphs">0.0</text>
<text class="tk" x="133.6" y="1013.3" textLength="29.3" lengthAdjust="spacingAndGlyphs">0.1</text>
<text class="tk" x="181.2" y="1013.3" textLength="29.3" lengthAdjust="spacingAndGlyphs">0.2</text>
<text class="tk" x="228.9" y="1013.3" textLength="29.3" lengthAdjust="spacingAndGlyphs">0.3</text>
<text class="tk" x="276.5" y="1013.3" textLength="29.3" lengthAdjust="spacingAndGlyphs">0.4</text>
<text class="tk" x="324.1" y="1013.3" textLength="29.3" lengthAdjust="spacingAndGlyphs">0.5</text>
<text class="tk" x="371.8" y="1013.3" textLength="29.3" lengthAdjust="spacingAndGlyphs">0.6</text>
<text class="tk" x="419.4" y="1013.3" textLength="29.3" lengthAdjust="spacingAndGlyphs">0.7</text>
<text class="tk" x="467.1" y="1013.3" textLength="29.3" lengthAdjust="spacingAndGlyphs">0.8</text>
<text class="tk" x="526.4" y="1013.3" textLength="29.3" lengthAdjust="spacingAndGlyphs">0.0</text>
<text class="tk" x="574" y="1013.3" textLength="29.3" lengthAdjust="spacingAndGlyphs">0.1</text>
<text class="tk" x="621.6" y="1013.3" textLength="29.3" lengthAdjust="spacingAndGlyphs">0.2</text>
<text class="tk" x="669.1" y="1013.3" textLength="29.3" lengthAdjust="spacingAndGlyphs">0.3</text>
<text class="tk" x="716.8" y="1013.3" textLength="29.3" lengthAdjust="spacingAndGlyphs">0.4</text>
<text class="tk" x="764.4" y="1013.3" textLength="29.3" lengthAdjust="spacingAndGlyphs">0.5</text>
<text class="tk" x="812" y="1013.3" textLength="29.3" lengthAdjust="spacingAndGlyphs">0.6</text>
<text class="tk" x="859.6" y="1013.3" textLength="29.3" lengthAdjust="spacingAndGlyphs">0.7</text>
<text class="tk" x="907.1" y="1013.3" textLength="29.3" lengthAdjust="spacingAndGlyphs">0.8</text>
<text class="tk" x="971.9" y="1013.3" textLength="29.3" lengthAdjust="spacingAndGlyphs">0.0</text>
<text class="tk" x="1019.6" y="1013.3" textLength="29.3" lengthAdjust="spacingAndGlyphs">0.1</text>
<text class="tk" x="1067.3" y="1013.3" textLength="29.3" lengthAdjust="spacingAndGlyphs">0.2</text>
<text class="tk" x="1115" y="1013.3" textLength="29.3" lengthAdjust="spacingAndGlyphs">0.3</text>
<text class="tk" x="1162.7" y="1013.3" textLength="29.3" lengthAdjust="spacingAndGlyphs">0.4</text>
<text class="tk" x="1210.4" y="1013.3" textLength="29.3" lengthAdjust="spacingAndGlyphs">0.5</text>
<text class="tk" x="1258.2" y="1013.3" textLength="29.3" lengthAdjust="spacingAndGlyphs">0.6</text>
<text class="tk" x="1305.9" y="1013.3" textLength="29.3" lengthAdjust="spacingAndGlyphs">0.7</text>
<text class="tk" x="1353.6" y="1013.3" textLength="29.3" lengthAdjust="spacingAndGlyphs">0.8</text>
<text class="tk" x="53.4" y="982.1" textLength="29.3" lengthAdjust="spacingAndGlyphs">0.0</text>
<text class="tk" x="53.4" y="935.1" textLength="29.3" lengthAdjust="spacingAndGlyphs">0.1</text>
<text class="tk" x="53.4" y="887" textLength="29.3" lengthAdjust="spacingAndGlyphs">0.2</text>
<text class="tk" x="53.4" y="838.2" textLength="29.3" lengthAdjust="spacingAndGlyphs">0.3</text>
<text class="tk" x="53.4" y="790.2" textLength="29.3" lengthAdjust="spacingAndGlyphs">0.4</text>
<text class="tk" x="53.4" y="742.8" textLength="29.3" lengthAdjust="spacingAndGlyphs">0.5</text>
<text class="tk" x="53.4" y="695.8" textLength="29.3" lengthAdjust="spacingAndGlyphs">0.6</text>
<text class="tk" x="53.4" y="647.1" textLength="29.3" lengthAdjust="spacingAndGlyphs">0.7</text>
<text class="tk" x="53.4" y="600.1" textLength="29.3" lengthAdjust="spacingAndGlyphs">0.8</text>
<text class="ti" x="107.5" y="28.6" textLength="353" lengthAdjust="spacingAndGlyphs">Helianthemum squamatum</text>
<text class="ti" x="108.3" y="564" textLength="270" lengthAdjust="spacingAndGlyphs">Lepidium subulatum</text>
<text class="ax" x="623.3" y="527.2" textLength="218.8" lengthAdjust="spacingAndGlyphs">Intraspecific cover</text>
<text class="ax" x="623.3" y="1063.4" textLength="218.8" lengthAdjust="spacingAndGlyphs">Intraspecific cover</text>
<text class="ax" transform="translate(27.7 353.0) rotate(-90)" textLength="215.6" lengthAdjust="spacingAndGlyphs">Interspecific cover</text>
<text class="ax" transform="translate(28.8 889.2) rotate(-90)" textLength="216.4" lengthAdjust="spacingAndGlyphs">Interspecific cover</text>
<text class="pl" x="152.6" y="85.2" textLength="325" lengthAdjust="spacingAndGlyphs">Climate of the worst year (2001)</text>
<text class="pl" x="750.6" y="83.7" textLength="165.2" lengthAdjust="spacingAndGlyphs">Average climate</text>
<text class="pl" x="993.2" y="85.2" textLength="193" lengthAdjust="spacingAndGlyphs">Climate of the best</text>
<text class="pl" x="993.9" y="108.4" textLength="112.6" lengthAdjust="spacingAndGlyphs">year (2012)</text>
<text class="pl" x="148.6" y="619.2" textLength="324.4" lengthAdjust="spacingAndGlyphs">Climate of the worst year (2001)</text>
<text class="pl" x="753.8" y="618" textLength="164.6" lengthAdjust="spacingAndGlyphs">Average climate</text>
<text class="pl" x="991.9" y="619.3" textLength="192.6" lengthAdjust="spacingAndGlyphs">Climate of the best</text>
<text class="pl" x="992.6" y="642.5" textLength="112.8" lengthAdjust="spacingAndGlyphs">year (2006)</text>
<text class="lm" transform="translate(658 217.3) rotate(5)" x="-25.2" y="9.2" textLength="50.5" lengthAdjust="spacingAndGlyphs"><tspan class="ls">λ</tspan> = 1</text>
<text class="lm" transform="translate(1270.5 126) rotate(-9)" x="-25.2" y="9.2" textLength="50.5" lengthAdjust="spacingAndGlyphs"><tspan class="ls">λ</tspan> = 1</text>
<text class="lm" transform="translate(653.2 805.2) rotate(67)" x="-25.2" y="9.2" textLength="50.5" lengthAdjust="spacingAndGlyphs"><tspan class="ls">λ</tspan> = 1</text>
<text class="lm" transform="translate(1311.8 684.2) rotate(57)" x="-25.2" y="9.2" textLength="50.5" lengthAdjust="spacingAndGlyphs"><tspan class="ls">λ</tspan> = 1</text>
<text class="lt" x="1426" y="115.2" textLength="67" lengthAdjust="spacingAndGlyphs">Lambda</text>
<rect x="1419.8" y="137" width="39" height="17.5" fill="#e4e4e4"/>
<rect x="1419.8" y="154.3" width="39" height="17.5" fill="#d2d2d2"/>
<rect x="1419.8" y="171.6" width="39" height="17.5" fill="#c0c0c0"/>
<rect x="1419.8" y="188.9" width="39" height="17.5" fill="#aeaeae"/>
<rect x="1419.8" y="206.2" width="39" height="17.5" fill="#9c9c9c"/>
<rect x="1419.8" y="223.5" width="39" height="17.5" fill="#8a8a8a"/>
<rect x="1419.8" y="240.8" width="39" height="17.5" fill="#787878"/>
<rect x="1419.8" y="258.1" width="39" height="17.5" fill="#676767"/>
<rect x="1419.8" y="275.4" width="39" height="17.5" fill="#555555"/>
<rect x="1419.8" y="292.7" width="39" height="17.5" fill="#444444"/>
<rect x="1420.5" y="137.7" width="37.6" height="15.9" fill="none" stroke="#fff" stroke-opacity="0.12" stroke-width="1.4"/>
<rect x="1420.5" y="155" width="37.6" height="15.9" fill="none" stroke="#fff" stroke-opacity="0.12" stroke-width="1.4"/>
<rect x="1420.5" y="172.3" width="37.6" height="15.9" fill="none" stroke="#fff" stroke-opacity="0.12" stroke-width="1.4"/>
<rect x="1420.5" y="189.6" width="37.6" height="15.9" fill="none" stroke="#fff" stroke-opacity="0.12" stroke-width="1.4"/>
<rect x="1420.5" y="206.9" width="37.6" height="15.9" fill="none" stroke="#fff" stroke-opacity="0.12" stroke-width="1.4"/>
<rect x="1420.5" y="224.2" width="37.6" height="15.9" fill="none" stroke="#fff" stroke-opacity="0.12" stroke-width="1.4"/>
<rect x="1420.5" y="241.5" width="37.6" height="15.9" fill="none" stroke="#fff" stroke-opacity="0.12" stroke-width="1.4"/>
<rect x="1420.5" y="258.8" width="37.6" height="15.9" fill="none" stroke="#fff" stroke-opacity="0.12" stroke-width="1.4"/>
<rect x="1420.5" y="276.1" width="37.6" height="15.9" fill="none" stroke="#fff" stroke-opacity="0.12" stroke-width="1.4"/>
<rect x="1420.5" y="293.4" width="37.6" height="15.9" fill="none" stroke="#fff" stroke-opacity="0.12" stroke-width="1.4"/>
<text class="lg" x="1464.3" y="151.7" textLength="18.4" lengthAdjust="spacingAndGlyphs">2.2</text>
<text class="lg" x="1464.3" y="169" textLength="18.4" lengthAdjust="spacingAndGlyphs">2.0</text>
<text class="lg" x="1464.3" y="186.2" textLength="18.4" lengthAdjust="spacingAndGlyphs">1.8</text>
<text class="lg" x="1464.3" y="203.6" textLength="18.4" lengthAdjust="spacingAndGlyphs">1.6</text>
<text class="lg" x="1464.3" y="220.8" textLength="18.4" lengthAdjust="spacingAndGlyphs">1.4</text>
<text class="lg" x="1464.3" y="238.2" textLength="18.4" lengthAdjust="spacingAndGlyphs">1.2</text>
<text class="lg" x="1464.3" y="255.5" textLength="18.4" lengthAdjust="spacingAndGlyphs">1.0</text>
<text class="lg" x="1464.3" y="272.8" textLength="18.4" lengthAdjust="spacingAndGlyphs">0.8</text>
<text class="lg" x="1464.3" y="290" textLength="18.4" lengthAdjust="spacingAndGlyphs">0.6</text>
<text class="lg" x="1464.3" y="307.4" textLength="18.4" lengthAdjust="spacingAndGlyphs">0.4</text>
</svg>
</body></html>
